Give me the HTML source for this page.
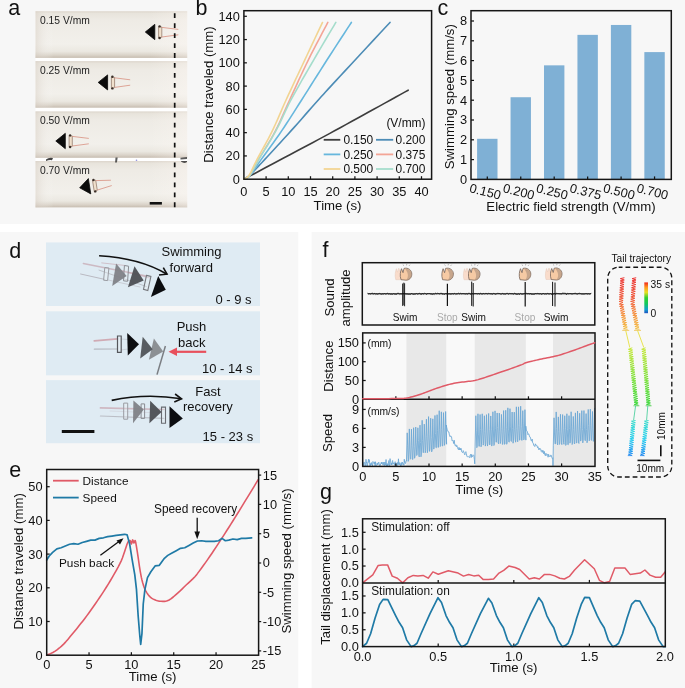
<!DOCTYPE html>
<html><head><meta charset="utf-8"><style>
html,body{margin:0;padding:0;background:#fff;}
svg{will-change:transform;}
svg{display:block;}
text{font-family:"Liberation Sans",sans-serif;}
</style></head><body>
<svg width="685" height="688" viewBox="0 0 685 688">
<rect x="0.00" y="0.00" width="685.00" height="688.00" fill="#ffffff" />
<rect x="0.00" y="0.00" width="685.00" height="224.00" fill="#f7f7f7" />
<rect x="0.00" y="232.00" width="298.30" height="456.00" fill="#f7f7f7" />
<rect x="311.60" y="232.00" width="373.40" height="456.00" fill="#f7f7f7" />
<text x="8.20" y="15.10" font-size="21.5" text-anchor="start" fill="#111" >a</text>
<defs>
<linearGradient id="stripg" x1="0" y1="0" x2="0" y2="1">
<stop offset="0" stop-color="#dcd5cb"/><stop offset="0.05" stop-color="#e8e4dc"/><stop offset="0.2" stop-color="#eeebe5"/>
<stop offset="0.7" stop-color="#f2f0eb"/><stop offset="0.86" stop-color="#ebe8e1"/><stop offset="0.94" stop-color="#dad3c9"/><stop offset="1" stop-color="#c6bcaf"/>
</linearGradient>
<linearGradient id="striph" x1="0" y1="0" x2="1" y2="0">
<stop offset="0" stop-color="#d9d0c6" stop-opacity="0.5"/><stop offset="0.12" stop-color="#ffffff" stop-opacity="0"/>
<stop offset="0.75" stop-color="#fff8f4" stop-opacity="0"/><stop offset="1" stop-color="#fff8f4" stop-opacity="0.35"/>
</linearGradient>
<linearGradient id="cbar" x1="0" y1="1" x2="0" y2="0">
<stop offset="0" stop-color="#2050c0"/><stop offset="0.12" stop-color="#10a0d0"/><stop offset="0.3" stop-color="#10c860"/><stop offset="0.5" stop-color="#30d030"/>
<stop offset="0.68" stop-color="#e8e020"/><stop offset="0.84" stop-color="#ff9820"/><stop offset="1" stop-color="#f02818"/>
</linearGradient>
</defs>
<rect x="35.50" y="11.20" width="151.70" height="196.20" fill="#ffffff" />
<rect x="35.50" y="11.20" width="151.70" height="46.70" fill="url(#stripg)" />
<rect x="35.50" y="11.20" width="151.70" height="46.70" fill="url(#striph)" />
<text x="40.00" y="24.00" font-size="10.3" text-anchor="start" fill="#222" >0.15 V/mm</text>
<rect x="35.50" y="61.10" width="151.70" height="46.60" fill="url(#stripg)" />
<rect x="35.50" y="61.10" width="151.70" height="46.60" fill="url(#striph)" />
<text x="40.00" y="73.90" font-size="10.3" text-anchor="start" fill="#222" >0.25 V/mm</text>
<rect x="35.50" y="111.40" width="151.70" height="46.40" fill="url(#stripg)" />
<rect x="35.50" y="111.40" width="151.70" height="46.40" fill="url(#striph)" />
<text x="40.00" y="124.20" font-size="10.3" text-anchor="start" fill="#222" >0.50 V/mm</text>
<rect x="35.50" y="161.00" width="151.70" height="46.40" fill="url(#stripg)" />
<rect x="35.50" y="161.00" width="151.70" height="46.40" fill="url(#striph)" />
<text x="40.00" y="173.80" font-size="10.3" text-anchor="start" fill="#222" >0.70 V/mm</text>
<polygon points="145.30,32.00 154.80,24.35 154.80,39.65" fill="#0b0b0b" stroke="#0b0b0b" stroke-width="0.8" stroke-linejoin="round"/>
<polygon points="158.60,26.40 161.80,27.00 161.80,37.20 158.60,38.20" fill="#f0e0cc" stroke="#8a7060" stroke-width="0.7"/>
<polyline points="161.80,27.40 178.30,29.40" stroke="#d89080" stroke-width="0.8" fill="none"/>
<polyline points="161.80,37.00 178.30,34.80" stroke="#d89080" stroke-width="0.8" fill="none"/>
<circle cx="159.60" cy="26.40" r="1.2" fill="#3a2e28"/>
<circle cx="159.60" cy="38.00" r="1.2" fill="#3a2e28"/>
<polygon points="98.20,82.40 107.60,74.90 107.60,89.90" fill="#0b0b0b" stroke="#0b0b0b" stroke-width="0.8" stroke-linejoin="round"/>
<polygon points="111.40,76.80 114.60,77.40 114.60,87.60 111.40,88.60" fill="#f0e0cc" stroke="#8a7060" stroke-width="0.7"/>
<polyline points="114.60,77.80 130.20,79.80" stroke="#d89080" stroke-width="0.8" fill="none"/>
<polyline points="114.60,87.40 130.20,85.20" stroke="#d89080" stroke-width="0.8" fill="none"/>
<circle cx="112.40" cy="76.80" r="1.2" fill="#3a2e28"/>
<circle cx="112.40" cy="88.40" r="1.2" fill="#3a2e28"/>
<polygon points="55.80,141.00 65.30,133.35 65.30,148.65" fill="#0b0b0b" stroke="#0b0b0b" stroke-width="0.8" stroke-linejoin="round"/>
<polygon points="69.10,135.40 72.30,136.00 72.30,146.20 69.10,147.20" fill="#f0e0cc" stroke="#8a7060" stroke-width="0.7"/>
<polyline points="72.30,136.40 88.80,138.40" stroke="#d89080" stroke-width="0.8" fill="none"/>
<polyline points="72.30,146.00 88.80,143.80" stroke="#d89080" stroke-width="0.8" fill="none"/>
<circle cx="70.10" cy="135.40" r="1.2" fill="#3a2e28"/>
<circle cx="70.10" cy="147.00" r="1.2" fill="#3a2e28"/>
<polygon points="79.70,187.80 88.36,178.58 90.79,193.89" fill="#0b0b0b" stroke="#0b0b0b" stroke-width="0.8" stroke-linejoin="round"/>
<polygon points="92.45,180.11 95.71,180.20 97.30,190.28 94.30,191.76" fill="#f0e0cc" stroke="#8a7060" stroke-width="0.7"/>
<polyline points="95.77,180.60 110.90,180.23" stroke="#d89080" stroke-width="0.8" fill="none"/>
<polyline points="97.27,190.08 111.74,185.56" stroke="#d89080" stroke-width="0.8" fill="none"/>
<circle cx="93.44" cy="179.95" r="1.2" fill="#3a2e28"/>
<circle cx="95.26" cy="191.41" r="1.2" fill="#3a2e28"/>
<path d="M46,159.5 q3,-2.5 7,-1.5 l-1,2.2 q-3,-0.5 -6,0.8 z" fill="#222" fill-opacity="0.85"/>
<path d="M115.5,157.5 l2.2,0 l-0.8,5 l-1.8,0 z" fill="#333" fill-opacity="0.8"/>
<circle cx="136.5" cy="160.2" r="0.8" fill="#6060d0" fill-opacity="0.7"/>
<path d="M180.5,157.8 l6.5,-0.8 l0,2 l-6.5,0.5 z" fill="#333" fill-opacity="0.8"/>
<path d="M181,161.5 q3,2.5 6,0.5 l0,-1 l-6,0 z" fill="#333" fill-opacity="0.85"/>
<line x1="174.70" y1="13.30" x2="174.70" y2="207.60" stroke="#111" stroke-width="1.7" stroke-dasharray="4.8,5.15"/>
<line x1="149.70" y1="203.30" x2="161.90" y2="203.30" stroke="#111" stroke-width="2.6" />
<text x="195.60" y="14.70" font-size="21.5" text-anchor="start" fill="#111" >b</text>
<text x="239.80" y="183.60" font-size="12.8" text-anchor="end" fill="#111" >0</text>
<line x1="243.90" y1="155.93" x2="246.90" y2="155.93" stroke="#161616" stroke-width="1.25" />
<text x="239.80" y="160.33" font-size="12.8" text-anchor="end" fill="#111" >20</text>
<line x1="243.90" y1="132.66" x2="246.90" y2="132.66" stroke="#161616" stroke-width="1.25" />
<text x="239.80" y="137.06" font-size="12.8" text-anchor="end" fill="#111" >40</text>
<line x1="243.90" y1="109.38" x2="246.90" y2="109.38" stroke="#161616" stroke-width="1.25" />
<text x="239.80" y="113.78" font-size="12.8" text-anchor="end" fill="#111" >60</text>
<line x1="243.90" y1="86.11" x2="246.90" y2="86.11" stroke="#161616" stroke-width="1.25" />
<text x="239.80" y="90.51" font-size="12.8" text-anchor="end" fill="#111" >80</text>
<line x1="243.90" y1="62.84" x2="246.90" y2="62.84" stroke="#161616" stroke-width="1.25" />
<text x="239.80" y="67.24" font-size="12.8" text-anchor="end" fill="#111" >100</text>
<line x1="243.90" y1="39.57" x2="246.90" y2="39.57" stroke="#161616" stroke-width="1.25" />
<text x="239.80" y="43.97" font-size="12.8" text-anchor="end" fill="#111" >120</text>
<line x1="243.90" y1="16.30" x2="246.90" y2="16.30" stroke="#161616" stroke-width="1.25" />
<text x="239.80" y="20.70" font-size="12.8" text-anchor="end" fill="#111" >140</text>
<text x="243.90" y="195.80" font-size="12.8" text-anchor="middle" fill="#111" >0</text>
<line x1="266.10" y1="179.20" x2="266.10" y2="176.20" stroke="#161616" stroke-width="1.25" />
<text x="266.10" y="195.80" font-size="12.8" text-anchor="middle" fill="#111" >5</text>
<line x1="288.30" y1="179.20" x2="288.30" y2="176.20" stroke="#161616" stroke-width="1.25" />
<text x="288.30" y="195.80" font-size="12.8" text-anchor="middle" fill="#111" >10</text>
<line x1="310.50" y1="179.20" x2="310.50" y2="176.20" stroke="#161616" stroke-width="1.25" />
<text x="310.50" y="195.80" font-size="12.8" text-anchor="middle" fill="#111" >15</text>
<line x1="332.70" y1="179.20" x2="332.70" y2="176.20" stroke="#161616" stroke-width="1.25" />
<text x="332.70" y="195.80" font-size="12.8" text-anchor="middle" fill="#111" >20</text>
<line x1="354.90" y1="179.20" x2="354.90" y2="176.20" stroke="#161616" stroke-width="1.25" />
<text x="354.90" y="195.80" font-size="12.8" text-anchor="middle" fill="#111" >25</text>
<line x1="377.10" y1="179.20" x2="377.10" y2="176.20" stroke="#161616" stroke-width="1.25" />
<text x="377.10" y="195.80" font-size="12.8" text-anchor="middle" fill="#111" >30</text>
<line x1="399.30" y1="179.20" x2="399.30" y2="176.20" stroke="#161616" stroke-width="1.25" />
<text x="399.30" y="195.80" font-size="12.8" text-anchor="middle" fill="#111" >35</text>
<line x1="421.50" y1="179.20" x2="421.50" y2="176.20" stroke="#161616" stroke-width="1.25" />
<text x="421.50" y="195.80" font-size="12.8" text-anchor="middle" fill="#111" >40</text>
<text transform="translate(212.80,94.50) rotate(-90)" font-size="13.2" text-anchor="middle" fill="#111">Distance traveled (mm)</text>
<text x="337.50" y="210.10" font-size="13.2" text-anchor="middle" fill="#111" >Time (s)</text>
<polyline points="243.90,179.20 246.58,177.77 250.07,175.90 254.23,173.68 258.88,171.19 263.89,168.52 269.08,165.75 274.31,162.96 279.42,160.23 284.55,157.51 289.90,154.67 295.42,151.75 301.06,148.76 306.78,145.73 312.51,142.68 318.21,139.63 323.82,136.61 329.40,133.59 335.02,130.53 340.67,127.45 346.30,124.36 351.90,121.28 357.43,118.23 362.88,115.23 368.22,112.29 373.70,109.27 379.46,106.09 385.29,102.87 390.98,99.72 396.32,96.76 401.10,94.11 405.13,91.88 408.18,90.18" fill="none" stroke="#3d3d3d" stroke-width="1.6" stroke-linejoin="round" stroke-linecap="round" />
<polyline points="243.90,179.20 244.36,178.89 244.92,178.55 245.59,178.15 246.35,177.67 247.23,177.08 248.22,176.34 249.33,175.42 250.56,174.31 251.88,173.04 253.26,171.66 254.74,170.15 256.34,168.47 258.10,166.61 260.04,164.54 262.20,162.22 264.59,159.65 267.29,156.75 270.29,153.51 273.53,150.00 276.94,146.30 280.46,142.47 284.01,138.58 287.54,134.71 290.96,130.91 294.37,127.10 297.86,123.16 301.39,119.16 304.92,115.14 308.41,111.15 311.83,107.26 315.15,103.51 318.31,99.96 321.13,96.83 323.53,94.17 325.71,91.76 327.88,89.38 330.23,86.84 332.94,83.90 336.21,80.35 340.25,75.99 345.47,70.35 351.89,63.43 359.05,55.73 366.48,47.73 373.75,39.91 380.39,32.77 385.95,26.79 389.98,22.46" fill="none" stroke="#4c8cb6" stroke-width="1.6" stroke-linejoin="round" stroke-linecap="round" />
<polyline points="243.90,179.20 244.35,179.00 244.91,178.81 245.57,178.61 246.32,178.33 247.16,177.92 248.08,177.35 249.07,176.55 250.12,175.48 251.19,174.17 252.30,172.67 253.46,171.00 254.70,169.13 256.06,167.06 257.56,164.80 259.22,162.33 261.08,159.65 263.20,156.69 265.56,153.43 268.11,149.92 270.80,146.23 273.55,142.42 276.32,138.55 279.03,134.70 281.64,130.91 284.13,127.21 286.55,123.54 288.94,119.86 291.33,116.13 293.76,112.32 296.26,108.38 298.87,104.27 301.62,99.96 304.53,95.38 307.59,90.56 310.76,85.55 314.00,80.42 317.27,75.24 320.54,70.07 323.77,64.99 326.93,60.05 330.19,54.98 333.67,49.61 337.22,44.13 340.72,38.76 344.02,33.70 346.98,29.16 349.47,25.35 351.35,22.46" fill="none" stroke="#67b7dd" stroke-width="1.6" stroke-linejoin="round" stroke-linecap="round" />
<polyline points="243.90,179.20 244.32,178.98 244.86,178.79 245.51,178.56 246.23,178.26 247.03,177.84 247.88,177.24 248.76,176.43 249.67,175.36 250.58,174.05 251.49,172.57 252.42,170.91 253.42,169.06 254.50,167.02 255.70,164.77 257.04,162.32 258.55,159.65 260.30,156.70 262.27,153.43 264.41,149.93 266.66,146.23 268.94,142.42 271.21,138.56 273.39,134.70 275.42,130.91 277.30,127.21 279.06,123.54 280.75,119.86 282.42,116.13 284.10,112.32 285.83,108.38 287.66,104.27 289.63,99.96 291.74,95.38 293.96,90.56 296.26,85.55 298.62,80.42 301.03,75.24 303.45,70.07 305.88,64.99 308.28,60.05 310.81,54.98 313.56,49.61 316.40,44.13 319.21,38.76 321.88,33.70 324.28,29.16 326.30,25.35 327.82,22.46" fill="none" stroke="#f3a596" stroke-width="1.6" stroke-linejoin="round" stroke-linecap="round" />
<polyline points="243.90,179.20 244.32,178.98 244.86,178.79 245.50,178.56 246.22,178.26 247.02,177.84 247.87,177.24 248.76,176.43 249.67,175.36 250.59,174.05 251.51,172.57 252.46,170.91 253.47,169.06 254.56,167.02 255.78,164.77 257.15,162.32 258.69,159.65 260.46,156.70 262.46,153.43 264.62,149.93 266.90,146.23 269.22,142.42 271.53,138.56 273.76,134.70 275.87,130.91 277.80,127.21 279.61,123.54 281.35,119.86 283.07,116.13 284.84,112.32 286.71,108.38 288.73,104.27 290.96,99.96 293.44,95.38 296.10,90.56 298.92,85.55 301.84,80.42 304.82,75.24 307.80,70.07 310.75,64.99 313.61,60.05 316.56,54.98 319.71,49.61 322.94,44.13 326.12,38.76 329.13,33.70 331.83,29.16 334.10,25.35 335.81,22.46" fill="none" stroke="#a5ddcc" stroke-width="1.6" stroke-linejoin="round" stroke-linecap="round" />
<polyline points="243.90,179.20 244.29,178.95 244.80,178.71 245.40,178.43 246.08,178.07 246.82,177.58 247.61,176.94 248.41,176.10 249.23,175.01 250.02,173.72 250.80,172.27 251.60,170.66 252.44,168.87 253.36,166.88 254.39,164.69 255.56,162.29 256.91,159.65 258.48,156.71 260.26,153.46 262.19,149.95 264.23,146.26 266.32,142.44 268.40,138.56 270.42,134.70 272.32,130.91 274.08,127.21 275.76,123.54 277.38,119.86 279.00,116.13 280.63,112.32 282.33,108.38 284.14,104.27 286.08,99.96 288.18,95.38 290.42,90.56 292.75,85.55 295.15,80.42 297.59,75.24 300.01,70.07 302.41,64.99 304.73,60.05 307.11,54.98 309.65,49.61 312.23,44.13 314.77,38.76 317.17,33.70 319.32,29.16 321.12,25.35 322.49,22.46" fill="none" stroke="#f2d492" stroke-width="1.6" stroke-linejoin="round" stroke-linecap="round" />
<text x="425.50" y="126.80" font-size="11.95" text-anchor="end" fill="#111" >(V/mm)</text>
<line x1="323.70" y1="139.80" x2="340.30" y2="139.80" stroke="#3d3d3d" stroke-width="1.8" />
<text x="343.40" y="144.10" font-size="11.95" text-anchor="start" fill="#111" >0.150</text>
<line x1="376.00" y1="139.80" x2="393.20" y2="139.80" stroke="#4c8cb6" stroke-width="1.8" />
<text x="395.50" y="144.10" font-size="11.95" text-anchor="start" fill="#111" >0.200</text>
<line x1="323.70" y1="154.40" x2="340.30" y2="154.40" stroke="#67b7dd" stroke-width="1.8" />
<text x="343.40" y="158.70" font-size="11.95" text-anchor="start" fill="#111" >0.250</text>
<line x1="376.00" y1="154.40" x2="393.20" y2="154.40" stroke="#f3a596" stroke-width="1.8" />
<text x="395.50" y="158.70" font-size="11.95" text-anchor="start" fill="#111" >0.375</text>
<line x1="323.70" y1="169.00" x2="340.30" y2="169.00" stroke="#f2d492" stroke-width="1.8" />
<text x="343.40" y="173.30" font-size="11.95" text-anchor="start" fill="#111" >0.500</text>
<line x1="376.00" y1="169.00" x2="393.20" y2="169.00" stroke="#a5ddcc" stroke-width="1.8" />
<text x="395.50" y="173.30" font-size="11.95" text-anchor="start" fill="#111" >0.700</text>
<rect x="243.90" y="10.70" width="187.70" height="168.50" fill="none" stroke="#161616" stroke-width="1.5"/>
<text x="437.60" y="15.40" font-size="21.5" text-anchor="start" fill="#111" >c</text>
<rect x="477.10" y="138.81" width="20.40" height="40.59" fill="#7fb0d5" />
<line x1="487.30" y1="179.40" x2="487.30" y2="176.40" stroke="#161616" stroke-width="1.25" />
<text transform="translate(468.70,192.00) rotate(14)" font-size="12.8" fill="#111">0.150</text>
<rect x="510.55" y="97.23" width="20.40" height="82.17" fill="#7fb0d5" />
<line x1="520.75" y1="179.40" x2="520.75" y2="176.40" stroke="#161616" stroke-width="1.25" />
<text transform="translate(502.15,192.00) rotate(14)" font-size="12.8" fill="#111">0.200</text>
<rect x="544.00" y="65.35" width="20.40" height="114.05" fill="#7fb0d5" />
<line x1="554.20" y1="179.40" x2="554.20" y2="176.40" stroke="#161616" stroke-width="1.25" />
<text transform="translate(535.60,192.00) rotate(14)" font-size="12.8" fill="#111">0.250</text>
<rect x="577.45" y="34.86" width="20.40" height="144.54" fill="#7fb0d5" />
<line x1="587.65" y1="179.40" x2="587.65" y2="176.40" stroke="#161616" stroke-width="1.25" />
<text transform="translate(569.05,192.00) rotate(14)" font-size="12.8" fill="#111">0.375</text>
<rect x="610.90" y="24.96" width="20.40" height="154.44" fill="#7fb0d5" />
<line x1="621.10" y1="179.40" x2="621.10" y2="176.40" stroke="#161616" stroke-width="1.25" />
<text transform="translate(602.50,192.00) rotate(14)" font-size="12.8" fill="#111">0.500</text>
<rect x="644.35" y="52.09" width="20.40" height="127.31" fill="#7fb0d5" />
<line x1="654.55" y1="179.40" x2="654.55" y2="176.40" stroke="#161616" stroke-width="1.25" />
<text transform="translate(635.95,192.00) rotate(14)" font-size="12.8" fill="#111">0.700</text>
<text x="467.20" y="183.80" font-size="12.8" text-anchor="end" fill="#111" >0</text>
<line x1="471.00" y1="159.60" x2="474.00" y2="159.60" stroke="#161616" stroke-width="1.25" />
<text x="467.20" y="164.00" font-size="12.8" text-anchor="end" fill="#111" >1</text>
<line x1="471.00" y1="139.80" x2="474.00" y2="139.80" stroke="#161616" stroke-width="1.25" />
<text x="467.20" y="144.20" font-size="12.8" text-anchor="end" fill="#111" >2</text>
<line x1="471.00" y1="120.00" x2="474.00" y2="120.00" stroke="#161616" stroke-width="1.25" />
<text x="467.20" y="124.40" font-size="12.8" text-anchor="end" fill="#111" >3</text>
<line x1="471.00" y1="100.20" x2="474.00" y2="100.20" stroke="#161616" stroke-width="1.25" />
<text x="467.20" y="104.60" font-size="12.8" text-anchor="end" fill="#111" >4</text>
<line x1="471.00" y1="80.40" x2="474.00" y2="80.40" stroke="#161616" stroke-width="1.25" />
<text x="467.20" y="84.80" font-size="12.8" text-anchor="end" fill="#111" >5</text>
<line x1="471.00" y1="60.60" x2="474.00" y2="60.60" stroke="#161616" stroke-width="1.25" />
<text x="467.20" y="65.00" font-size="12.8" text-anchor="end" fill="#111" >6</text>
<line x1="471.00" y1="40.80" x2="474.00" y2="40.80" stroke="#161616" stroke-width="1.25" />
<text x="467.20" y="45.20" font-size="12.8" text-anchor="end" fill="#111" >7</text>
<line x1="471.00" y1="21.00" x2="474.00" y2="21.00" stroke="#161616" stroke-width="1.25" />
<text x="467.20" y="25.40" font-size="12.8" text-anchor="end" fill="#111" >8</text>
<text transform="translate(453.80,96.70) rotate(-90)" font-size="13.2" text-anchor="middle" fill="#111">Swimming speed (mm/s)</text>
<text x="571.00" y="210.90" font-size="13.2" text-anchor="middle" fill="#111" >Electric field strength (V/mm)</text>
<rect x="471.00" y="10.70" width="200.30" height="168.70" fill="none" stroke="#161616" stroke-width="1.5"/>
<text x="9.20" y="257.50" font-size="21.5" text-anchor="start" fill="#111" >d</text>
<rect x="46.00" y="242.40" width="214.00" height="63.60" fill="#dfebf3" />
<rect x="46.00" y="311.30" width="214.00" height="64.00" fill="#dfebf3" />
<rect x="46.00" y="380.10" width="214.00" height="63.10" fill="#dfebf3" />
<line x1="83.30" y1="263.50" x2="146.30" y2="276.00" stroke="#c4a4ae" stroke-width="1.4" stroke-opacity="0.7" stroke-linecap="round"/>
<line x1="80.60" y1="274.00" x2="104.30" y2="279.30" stroke="#a9a4ac" stroke-width="1.0" stroke-opacity="0.7" stroke-linecap="round"/>
<line x1="101.70" y1="262.90" x2="125.30" y2="265.50" stroke="#c4a4ae" stroke-width="1.0" stroke-opacity="0.6" stroke-linecap="round"/>
<line x1="99.00" y1="270.10" x2="146.30" y2="286.50" stroke="#9c98a0" stroke-width="0.9" stroke-opacity="0.55" stroke-linecap="round"/>
<line x1="122.70" y1="270.80" x2="150.00" y2="278.00" stroke="#c4a4ae" stroke-width="1.2" stroke-opacity="0.6" stroke-linecap="round"/>
<line x1="108.00" y1="280.00" x2="140.00" y2="287.00" stroke="#b0a8b0" stroke-width="0.9" stroke-opacity="0.5" stroke-linecap="round"/>
<polygon points="104.80,267.50 108.90,268.00 107.60,280.60 103.60,280.20" fill="#eef2f5" fill-opacity="0.3" stroke="#9a9ca2" stroke-width="1.0"/>
<polygon points="124.40,265.50 128.60,266.20 127.60,281.30 123.50,280.80" fill="#eef2f5" fill-opacity="0.3" stroke="#8a8c92" stroke-width="1.0"/>
<polygon points="146.50,275.40 150.90,276.50 147.80,290.50 143.50,289.40" fill="#eef2f5" fill-opacity="0.3" stroke="#77797e" stroke-width="1.1"/>
<polygon points="116.10,263.50 126.60,276.00 112.20,285.90" fill="#7f8287" fill-opacity="0.95"/>
<polygon points="134.50,266.20 143.70,280.60 127.90,287.20" fill="#4f5257" fill-opacity="0.97"/>
<polygon points="158.20,276.00 165.80,289.80 150.90,297.00" fill="#0c0d10" fill-opacity="1"/>
<path d="M99.1,255.7 Q140,258 167,274.2" fill="none" stroke="#111" stroke-width="1.6"/>
<polyline points="163.3,267.6 167,274.2 159,275" fill="none" stroke="#111" stroke-width="1.6"/>
<text x="191.50" y="256.40" font-size="13.0" text-anchor="middle" fill="#111" >Swimming</text>
<text x="191.20" y="272.10" font-size="13.0" text-anchor="middle" fill="#111" >forward</text>
<text x="251.50" y="303.60" font-size="13.0" text-anchor="end" fill="#111" >0 - 9 s</text>
<line x1="94.30" y1="340.80" x2="117.50" y2="338.80" stroke="#c98f99" stroke-width="1.8" stroke-opacity="0.7" stroke-linecap="round"/>
<line x1="94.30" y1="349.20" x2="117.50" y2="349.00" stroke="#a4a4ac" stroke-width="1.2" stroke-opacity="0.7" stroke-linecap="round"/>
<line x1="121.00" y1="339.00" x2="128.00" y2="339.50" stroke="#b0b0b8" stroke-width="0.8" stroke-opacity="0.5" stroke-linecap="round"/>
<line x1="121.00" y1="350.00" x2="128.00" y2="349.00" stroke="#b0b0b8" stroke-width="0.8" stroke-opacity="0.5" stroke-linecap="round"/>
<polygon points="117.50,336.00 121.20,336.00 121.20,352.30 117.50,352.30" fill="#eef2f5" fill-opacity="0.3" stroke="#55575c" stroke-width="1.2"/>
<polygon points="153.90,338.40 163.20,351.60 148.90,359.70" fill="#898c91" fill-opacity="0.97"/>
<polygon points="142.70,336.70 152.70,349.20 140.20,358.50" fill="#54575c" fill-opacity="0.97"/>
<polygon points="127.20,333.00 139.00,344.20 127.80,355.40" fill="#0c0d10" fill-opacity="1"/>
<line x1="165.40" y1="346.00" x2="157.00" y2="374.60" stroke="#7a7d82" stroke-width="1.5" />
<line x1="206.20" y1="351.80" x2="176.00" y2="351.80" stroke="#e8505c" stroke-width="2.2" />
<polygon points="168.50,351.80 177.00,347.60 177.00,356.00" fill="#e8505c" />
<text x="191.50" y="331.30" font-size="13.0" text-anchor="middle" fill="#111" >Push</text>
<text x="191.80" y="346.60" font-size="13.0" text-anchor="middle" fill="#111" >back</text>
<text x="252.50" y="373.20" font-size="13.0" text-anchor="end" fill="#111" >10 - 14 s</text>
<line x1="100.40" y1="407.90" x2="163.90" y2="409.50" stroke="#c7a3ad" stroke-width="1.6" stroke-opacity="0.7" stroke-linecap="round"/>
<line x1="100.40" y1="416.00" x2="163.90" y2="418.40" stroke="#a8a6ae" stroke-width="1.1" stroke-opacity="0.65" stroke-linecap="round"/>
<line x1="110.00" y1="411.00" x2="160.00" y2="413.00" stroke="#c0b8c0" stroke-width="0.8" stroke-opacity="0.4" stroke-linecap="round"/>
<polygon points="123.70,403.10 127.70,403.10 127.70,419.20 123.70,419.20" fill="#eef2f5" fill-opacity="0.3" stroke="#9a9ca2" stroke-width="1.0"/>
<polygon points="141.10,403.90 144.60,403.90 144.60,418.40 141.10,418.40" fill="#eef2f5" fill-opacity="0.3" stroke="#8a8c92" stroke-width="1.0"/>
<polygon points="161.50,407.10 165.50,407.10 165.50,423.20 161.50,423.20" fill="#eef2f5" fill-opacity="0.3" stroke="#6a6c72" stroke-width="1.1"/>
<polygon points="133.40,400.40 143.80,409.50 133.00,423.20" fill="#7f8287" fill-opacity="0.95"/>
<polygon points="150.20,400.70 161.50,411.90 149.40,423.20" fill="#4f5257" fill-opacity="0.97"/>
<polygon points="169.50,406.30 182.80,418.40 169.50,428.00" fill="#0c0d10" fill-opacity="1"/>
<path d="M111.7,400.4 Q146,393 181.5,398.8" fill="none" stroke="#111" stroke-width="1.6"/>
<polyline points="175.1,394 181.5,398.8 174.3,402" fill="none" stroke="#111" stroke-width="1.6"/>
<text x="207.90" y="396.20" font-size="13.0" text-anchor="middle" fill="#111" >Fast</text>
<text x="207.90" y="411.00" font-size="13.0" text-anchor="middle" fill="#111" >recovery</text>
<text x="253.20" y="441.00" font-size="13.0" text-anchor="end" fill="#111" >15 - 23 s</text>
<line x1="61.80" y1="431.50" x2="94.40" y2="431.50" stroke="#111" stroke-width="3" />
<text x="9.30" y="477.30" font-size="21.5" text-anchor="start" fill="#111" >e</text>
<text x="42.60" y="659.60" font-size="12.8" text-anchor="end" fill="#111" >0</text>
<line x1="46.70" y1="621.50" x2="49.70" y2="621.50" stroke="#161616" stroke-width="1.25" />
<text x="42.60" y="625.90" font-size="12.8" text-anchor="end" fill="#111" >10</text>
<line x1="46.70" y1="587.80" x2="49.70" y2="587.80" stroke="#161616" stroke-width="1.25" />
<text x="42.60" y="592.20" font-size="12.8" text-anchor="end" fill="#111" >20</text>
<line x1="46.70" y1="554.10" x2="49.70" y2="554.10" stroke="#161616" stroke-width="1.25" />
<text x="42.60" y="558.50" font-size="12.8" text-anchor="end" fill="#111" >30</text>
<line x1="46.70" y1="520.40" x2="49.70" y2="520.40" stroke="#161616" stroke-width="1.25" />
<text x="42.60" y="524.80" font-size="12.8" text-anchor="end" fill="#111" >40</text>
<line x1="46.70" y1="486.70" x2="49.70" y2="486.70" stroke="#161616" stroke-width="1.25" />
<text x="42.60" y="491.10" font-size="12.8" text-anchor="end" fill="#111" >50</text>
<line x1="258.60" y1="650.90" x2="261.20" y2="650.90" stroke="#161616" stroke-width="1.2" />
<text x="262.80" y="655.30" font-size="12.8" text-anchor="start" fill="#111" >-15</text>
<line x1="258.60" y1="621.60" x2="261.20" y2="621.60" stroke="#161616" stroke-width="1.2" />
<text x="262.80" y="626.00" font-size="12.8" text-anchor="start" fill="#111" >-10</text>
<line x1="258.60" y1="592.30" x2="261.20" y2="592.30" stroke="#161616" stroke-width="1.2" />
<text x="262.80" y="596.70" font-size="12.8" text-anchor="start" fill="#111" >-5</text>
<line x1="258.60" y1="563.00" x2="261.20" y2="563.00" stroke="#161616" stroke-width="1.2" />
<text x="262.80" y="567.40" font-size="12.8" text-anchor="start" fill="#111" >0</text>
<line x1="258.60" y1="533.70" x2="261.20" y2="533.70" stroke="#161616" stroke-width="1.2" />
<text x="262.80" y="538.10" font-size="12.8" text-anchor="start" fill="#111" >5</text>
<line x1="258.60" y1="504.40" x2="261.20" y2="504.40" stroke="#161616" stroke-width="1.2" />
<text x="262.80" y="508.80" font-size="12.8" text-anchor="start" fill="#111" >10</text>
<line x1="258.60" y1="475.10" x2="261.20" y2="475.10" stroke="#161616" stroke-width="1.2" />
<text x="262.80" y="479.50" font-size="12.8" text-anchor="start" fill="#111" >15</text>
<text x="46.70" y="668.60" font-size="12.8" text-anchor="middle" fill="#111" >0</text>
<line x1="89.04" y1="655.20" x2="89.04" y2="652.20" stroke="#161616" stroke-width="1.25" />
<text x="89.04" y="668.60" font-size="12.8" text-anchor="middle" fill="#111" >5</text>
<line x1="131.38" y1="655.20" x2="131.38" y2="652.20" stroke="#161616" stroke-width="1.25" />
<text x="131.38" y="668.60" font-size="12.8" text-anchor="middle" fill="#111" >10</text>
<line x1="173.72" y1="655.20" x2="173.72" y2="652.20" stroke="#161616" stroke-width="1.25" />
<text x="173.72" y="668.60" font-size="12.8" text-anchor="middle" fill="#111" >15</text>
<line x1="216.06" y1="655.20" x2="216.06" y2="652.20" stroke="#161616" stroke-width="1.25" />
<text x="216.06" y="668.60" font-size="12.8" text-anchor="middle" fill="#111" >20</text>
<text x="258.40" y="668.60" font-size="12.8" text-anchor="middle" fill="#111" >25</text>
<text transform="translate(23.00,561.30) rotate(-90)" font-size="13.2" text-anchor="middle" fill="#111">Distance traveled (mm)</text>
<text transform="translate(291.00,561.00) rotate(-90)" font-size="13.2" text-anchor="middle" fill="#111">Swimming speed (mm/s)</text>
<text x="152.60" y="681.40" font-size="13.2" text-anchor="middle" fill="#111" >Time (s)</text>
<polyline points="46.70,655.20 48.22,654.54 50.40,653.62 52.85,652.48 55.17,651.16 57.29,649.66 59.40,647.98 61.52,646.11 63.64,644.08 65.75,641.84 67.87,639.40 69.99,636.86 72.10,634.31 74.22,631.76 76.34,629.17 78.45,626.53 80.57,623.86 82.69,621.15 84.81,618.40 86.92,615.61 89.04,612.74 91.16,609.79 93.27,606.78 95.39,603.71 97.51,600.61 99.62,597.48 101.74,594.33 103.86,591.11 105.98,587.80 108.13,584.32 110.32,580.72 112.45,577.12 114.44,573.65 116.32,570.33 118.10,567.10 119.74,563.94 121.22,560.84 122.50,557.71 123.60,554.58 124.57,551.64 125.45,549.05 126.22,546.81 126.85,544.85 127.43,543.22 127.99,541.97 128.57,541.12 129.13,540.64 129.65,540.49 130.11,540.62 130.49,541.30 130.80,542.47 131.08,543.56 131.38,543.99 131.70,543.33 132.02,541.99 132.33,540.63 132.65,539.95 132.97,540.33 133.29,541.36 133.60,542.43 133.92,542.98 134.24,542.57 134.56,541.61 134.87,540.74 135.19,540.62 135.50,541.43 135.80,542.83 136.11,544.64 136.46,546.69 136.85,549.03 137.28,551.74 137.72,554.62 138.15,557.47 138.57,560.30 138.97,563.18 139.39,566.07 139.85,568.93 140.33,571.78 140.83,574.64 141.37,577.42 141.97,580.05 142.62,582.52 143.31,584.87 144.08,587.09 144.93,589.15 145.88,591.07 146.91,592.86 148.01,594.47 149.16,595.89 150.33,597.08 151.54,598.06 152.83,598.88 154.24,599.60 155.80,600.22 157.47,600.73 159.23,601.10 161.02,601.28 162.82,601.37 164.67,601.34 166.59,601.04 168.64,600.27 170.87,598.88 173.24,597.00 175.65,594.91 177.95,592.86 180.13,590.88 182.24,588.85 184.32,586.80 186.42,584.77 188.54,582.82 190.66,580.91 192.77,578.91 194.89,576.68 197.01,574.14 199.12,571.37 201.24,568.48 203.36,565.56 205.48,562.61 207.59,559.60 209.71,556.53 211.83,553.43 213.94,550.28 216.06,547.09 218.18,543.86 220.29,540.62 222.41,537.37 224.53,534.09 226.64,530.79 228.76,527.48 230.88,524.14 233.00,520.78 235.11,517.40 237.23,514.00 239.35,510.57 241.46,507.11 243.58,503.64 245.70,500.18 247.91,496.57 250.20,492.85 252.35,489.34 254.17,486.36 255.62,483.95 256.81,481.96 257.74,480.40 258.40,479.29" fill="none" stroke="#e05a67" stroke-width="1.6" stroke-linejoin="round" stroke-linecap="round" />
<polyline points="46.70,560.07 49.24,555.97 52.63,552.45 56.86,548.94 61.10,547.76 65.33,546.01 69.56,544.25 73.80,543.66 78.03,544.25 82.27,542.49 86.50,541.32 90.73,540.15 94.97,540.15 99.20,538.39 103.44,537.80 107.67,536.63 111.90,536.04 116.14,535.46 120.37,534.87 124.61,534.29 127.15,534.87 129.69,544.25 132.23,560.07 134.77,574.72 136.46,589.37 138.15,615.74 139.85,636.25 140.69,644.45 141.97,633.32 143.24,604.02 144.93,589.37 147.47,577.65 150.86,571.79 155.09,565.93 159.32,565.34 161.86,561.83 164.41,558.31 167.79,555.38 172.03,553.04 176.26,550.69 180.49,548.35 184.73,547.76 188.96,545.42 193.20,543.08 197.43,541.02 201.66,540.73 205.90,541.32 210.13,541.32 214.37,541.32 218.60,540.73 221.99,538.39 225.37,540.73 228.76,540.15 233.00,538.97 237.23,539.56 241.46,538.39 245.70,538.39 251.63,537.80" fill="none" stroke="#1f7aa6" stroke-width="1.7" stroke-linejoin="round" stroke-linecap="round" />
<line x1="53.00" y1="480.70" x2="78.70" y2="480.70" stroke="#e05a67" stroke-width="1.8" />
<text x="82.60" y="485.00" font-size="11.8" text-anchor="start" fill="#111" >Distance</text>
<line x1="53.00" y1="497.60" x2="78.70" y2="497.60" stroke="#1f7aa6" stroke-width="1.8" />
<text x="82.60" y="501.90" font-size="11.8" text-anchor="start" fill="#111" >Speed</text>
<text x="86.50" y="567.00" font-size="11.8" text-anchor="middle" fill="#111" >Push back</text>
<line x1="100.40" y1="555.30" x2="121.00" y2="540.00" stroke="#111" stroke-width="1.3" />
<polygon points="123.50,538.30 116.50,540.60 120.00,544.50" fill="#111" />
<text x="195.60" y="513.00" font-size="11.9" text-anchor="middle" fill="#111" >Speed recovery</text>
<line x1="197.20" y1="517.80" x2="197.20" y2="533.00" stroke="#111" stroke-width="1.3" />
<polygon points="197.20,539.20 194.40,531.50 200.00,531.50" fill="#111" />
<rect x="46.70" y="469.50" width="211.90" height="185.70" fill="none" stroke="#161616" stroke-width="1.5"/>
<text x="322.40" y="257.30" font-size="21.5" text-anchor="start" fill="#111" >f</text>
<polyline points="367.80,293.43 368.60,293.86 369.40,293.62 370.20,293.95 371.00,293.98 371.80,293.19 372.60,293.12 373.40,294.27 374.20,293.46 375.00,293.43 375.80,294.49 376.60,293.76 377.40,294.27 378.20,293.77 379.00,293.99 379.80,293.31 380.60,293.99 381.40,294.32 382.20,293.83 383.00,294.14 383.80,294.04 384.60,293.19 385.40,294.16 386.20,293.93 387.00,293.52 387.80,293.14 388.60,294.31 389.40,293.76 390.20,294.11 391.00,294.33 391.80,294.10 392.60,294.39 393.40,293.65 394.20,294.22 395.00,293.72 395.80,294.41 396.60,294.33 397.40,293.24 398.20,293.29 399.00,293.40 399.80,294.45 400.60,293.71 401.40,293.98 402.20,293.52 403.00,293.81 403.80,293.64 404.60,293.59 405.40,293.92 406.20,293.92 407.00,294.37 407.80,294.05 408.60,294.40 409.40,294.30 410.20,294.49 411.00,294.04 411.80,293.33 412.60,294.30 413.40,294.45 414.20,294.37 415.00,293.90 415.80,294.10 416.60,293.40 417.40,294.26 418.20,293.90 419.00,293.50 419.80,293.19 420.60,294.30 421.40,294.49 422.20,293.22 423.00,294.22 423.80,293.67 424.60,293.31 425.40,293.51 426.20,294.18 427.00,294.32 427.80,293.16 428.60,293.96 429.40,293.16 430.20,294.11 431.00,293.56 431.80,294.33 432.60,294.47 433.40,293.81 434.20,294.50 435.00,293.53 435.80,293.21 436.60,293.94 437.40,293.14 438.20,293.38 439.00,293.67 439.80,293.95 440.60,293.32 441.40,293.16 442.20,294.31 443.00,293.54 443.80,294.44 444.60,294.36 445.40,293.63 446.20,293.74 447.00,293.83 447.80,294.00 448.60,293.93 449.40,293.88 450.20,293.97 451.00,294.42 451.80,293.81 452.60,293.70 453.40,294.11 454.20,293.43 455.00,293.52 455.80,294.47 456.60,293.83 457.40,293.87 458.20,293.12 459.00,293.68 459.80,293.91 460.60,293.13 461.40,293.96 462.20,293.99 463.00,293.18 463.80,293.98 464.60,293.75 465.40,294.05 466.20,293.59 467.00,294.09 467.80,294.13 468.60,293.13 469.40,293.18 470.20,294.05 471.00,294.45 471.80,293.45 472.60,293.74 473.40,293.93 474.20,293.55 475.00,293.61 475.80,293.54 476.60,293.62 477.40,293.93 478.20,293.52 479.00,293.63 479.80,294.18 480.60,293.14 481.40,293.90 482.20,294.13 483.00,293.53 483.80,293.41 484.60,294.23 485.40,293.43 486.20,293.36 487.00,293.71 487.80,294.08 488.60,293.24 489.40,293.55 490.20,293.57 491.00,294.27 491.80,293.71 492.60,294.30 493.40,293.34 494.20,293.57 495.00,294.01 495.80,294.34 496.60,293.73 497.40,293.42 498.20,293.27 499.00,293.84 499.80,293.37 500.60,294.23 501.40,294.27 502.20,293.36 503.00,293.49 503.80,294.23 504.60,294.00 505.40,294.23 506.20,293.58 507.00,293.28 507.80,293.51 508.60,294.21 509.40,293.48 510.20,293.58 511.00,293.68 511.80,293.69 512.60,293.67 513.40,294.39 514.20,293.32 515.00,293.11 515.80,294.42 516.60,294.33 517.40,294.48 518.20,293.71 519.00,294.43 519.80,294.40 520.60,293.41 521.40,294.14 522.20,294.27 523.00,294.03 523.80,293.83 524.60,293.50 525.40,293.58 526.20,293.42 527.00,293.20 527.80,293.92 528.60,293.50 529.40,294.23 530.20,293.16 531.00,294.37 531.80,294.07 532.60,294.39 533.40,294.36 534.20,294.36 535.00,293.91 535.80,293.12 536.60,294.14 537.40,293.34 538.20,293.52 539.00,294.03 539.80,293.83 540.60,293.68 541.40,294.41 542.20,293.96 543.00,293.58 543.80,293.45 544.60,294.31 545.40,293.77 546.20,294.20 547.00,293.59 547.80,293.38 548.60,293.85 549.40,294.24 550.20,293.34 551.00,294.21 551.80,294.39 552.60,294.23 553.40,294.25 554.20,293.11 555.00,293.98 555.80,294.31 556.60,293.17 557.40,293.48 558.20,293.48 559.00,293.84 559.80,293.69 560.60,293.76 561.40,294.19 562.20,293.10 563.00,293.18 563.80,293.28 564.60,293.27 565.40,293.20 566.20,294.46 567.00,294.30 567.80,293.22 568.60,293.80 569.40,293.54 570.20,293.54 571.00,293.59 571.80,294.01 572.60,293.92 573.40,293.61 574.20,293.37 575.00,293.56 575.80,293.27 576.60,293.88 577.40,294.10 578.20,293.63 579.00,293.21 579.80,293.35 580.60,293.62 581.40,293.95 582.20,294.20 583.00,293.63 583.80,294.22 584.60,293.97 585.40,293.70 586.20,293.62 587.00,293.79 587.80,294.08 588.60,293.69 589.40,294.07 590.20,293.75 591.00,293.44" fill="none" stroke="#222" stroke-width="0.9" stroke-linejoin="round" stroke-linecap="round" />
<line x1="367.80" y1="293.80" x2="591.00" y2="293.80" stroke="#1a1a1a" stroke-width="1.0" />
<line x1="402.60" y1="283.57" x2="402.60" y2="305.89" stroke="#111" stroke-width="0.9" />
<line x1="403.80" y1="282.64" x2="403.80" y2="305.35" stroke="#111" stroke-width="0.9" />
<line x1="404.60" y1="283.35" x2="404.60" y2="306.26" stroke="#111" stroke-width="0.9" />
<line x1="447.40" y1="283.80" x2="447.40" y2="305.90" stroke="#111" stroke-width="1.2" />
<line x1="471.70" y1="281.60" x2="471.70" y2="305.90" stroke="#111" stroke-width="1.0" />
<line x1="473.20" y1="283.00" x2="473.20" y2="306.50" stroke="#111" stroke-width="1.0" />
<line x1="525.20" y1="282.00" x2="525.20" y2="306.50" stroke="#111" stroke-width="1.2" />
<line x1="552.60" y1="281.80" x2="552.60" y2="306.00" stroke="#111" stroke-width="1.0" />
<line x1="555.00" y1="282.50" x2="555.00" y2="306.50" stroke="#111" stroke-width="1.0" />
<path d="M395.80,279.70 C394.50,275.20 395.50,271.20 396.40,268.70 L397.40,272.20 L398.80,268.20 L400.40,272.70 L402.00,270.20 C403.00,274.20 402.50,278.20 401.00,279.70 Z" fill="#f9dccb" stroke="#e9cdbd" stroke-width="0.6"/>
<path d="M401.00,279.70 C399.50,275.20 400.50,271.20 401.50,268.70 L403.00,272.70 L404.00,268.40 C408.00,267.20 412.00,270.20 411.80,274.20 C411.60,278.20 409.00,280.20 406.00,280.20 Z" fill="#f6caa4" stroke="#6e5e56" stroke-width="0.75"/>
<path d="M405.00,268.70 C409.00,268.20 412.00,271.20 411.60,275.20 C411.00,278.20 409.00,279.80 406.50,280.00 C409.00,276.20 408.00,272.20 405.00,268.70 Z" fill="#a08878" fill-opacity="0.55"/>
<path d="M404.00,265.70 l-1.2,-1 M406.50,265.40 l0.3,-1.4 M409.00,265.90 l1,-1.2" stroke="#888" stroke-width="0.6" fill="none"/>
<path d="M442.60,279.70 C441.10,275.20 442.10,271.20 443.10,268.70 L444.60,272.70 L445.60,268.40 C449.60,267.20 453.60,270.20 453.40,274.20 C453.20,278.20 450.60,280.20 447.60,280.20 Z" fill="#f6caa4" stroke="#6e5e56" stroke-width="0.75"/>
<path d="M446.60,268.70 C450.60,268.20 453.60,271.20 453.20,275.20 C452.60,278.20 450.60,279.80 448.10,280.00 C450.60,276.20 449.60,272.20 446.60,268.70 Z" fill="#a08878" fill-opacity="0.55"/>
<path d="M445.60,265.70 l-1.2,-1 M448.10,265.40 l0.3,-1.4 M450.60,265.90 l1,-1.2" stroke="#888" stroke-width="0.6" fill="none"/>
<path d="M464.00,279.70 C462.70,275.20 463.70,271.20 464.60,268.70 L465.60,272.20 L467.00,268.20 L468.60,272.70 L470.20,270.20 C471.20,274.20 470.70,278.20 469.20,279.70 Z" fill="#f9dccb" stroke="#e9cdbd" stroke-width="0.6"/>
<path d="M469.20,279.70 C467.70,275.20 468.70,271.20 469.70,268.70 L471.20,272.70 L472.20,268.40 C476.20,267.20 480.20,270.20 480.00,274.20 C479.80,278.20 477.20,280.20 474.20,280.20 Z" fill="#f6caa4" stroke="#6e5e56" stroke-width="0.75"/>
<path d="M473.20,268.70 C477.20,268.20 480.20,271.20 479.80,275.20 C479.20,278.20 477.20,279.80 474.70,280.00 C477.20,276.20 476.20,272.20 473.20,268.70 Z" fill="#a08878" fill-opacity="0.55"/>
<path d="M472.20,265.70 l-1.2,-1 M474.70,265.40 l0.3,-1.4 M477.20,265.90 l1,-1.2" stroke="#888" stroke-width="0.6" fill="none"/>
<path d="M520.00,279.70 C518.50,275.20 519.50,271.20 520.50,268.70 L522.00,272.70 L523.00,268.40 C527.00,267.20 531.00,270.20 530.80,274.20 C530.60,278.20 528.00,280.20 525.00,280.20 Z" fill="#f6caa4" stroke="#6e5e56" stroke-width="0.75"/>
<path d="M524.00,268.70 C528.00,268.20 531.00,271.20 530.60,275.20 C530.00,278.20 528.00,279.80 525.50,280.00 C528.00,276.20 527.00,272.20 524.00,268.70 Z" fill="#a08878" fill-opacity="0.55"/>
<path d="M523.00,265.70 l-1.2,-1 M525.50,265.40 l0.3,-1.4 M528.00,265.90 l1,-1.2" stroke="#888" stroke-width="0.6" fill="none"/>
<path d="M546.00,279.50 C544.70,275.00 545.70,271.00 546.60,268.50 L547.60,272.00 L549.00,268.00 L550.60,272.50 L552.20,270.00 C553.20,274.00 552.70,278.00 551.20,279.50 Z" fill="#f9dccb" stroke="#e9cdbd" stroke-width="0.6"/>
<path d="M551.20,279.50 C549.70,275.00 550.70,271.00 551.70,268.50 L553.20,272.50 L554.20,268.20 C558.20,267.00 562.20,270.00 562.00,274.00 C561.80,278.00 559.20,280.00 556.20,280.00 Z" fill="#f6caa4" stroke="#6e5e56" stroke-width="0.75"/>
<path d="M555.20,268.50 C559.20,268.00 562.20,271.00 561.80,275.00 C561.20,278.00 559.20,279.60 556.70,279.80 C559.20,276.00 558.20,272.00 555.20,268.50 Z" fill="#a08878" fill-opacity="0.55"/>
<path d="M554.20,265.50 l-1.2,-1 M556.70,265.20 l0.3,-1.4 M559.20,265.70 l1,-1.2" stroke="#888" stroke-width="0.6" fill="none"/>
<text x="405.00" y="320.80" font-size="10.1" text-anchor="middle" fill="#111" >Swim</text>
<text x="447.30" y="320.80" font-size="10.1" text-anchor="middle" fill="#aaaaaa" >Stop</text>
<text x="473.70" y="320.80" font-size="10.1" text-anchor="middle" fill="#111" >Swim</text>
<text x="525.00" y="320.80" font-size="10.1" text-anchor="middle" fill="#aaaaaa" >Stop</text>
<text x="556.20" y="320.80" font-size="10.1" text-anchor="middle" fill="#111" >Swim</text>
<rect x="362.30" y="262.70" width="232.50" height="62.30" fill="none" stroke="#161616" stroke-width="1.5"/>
<text transform="translate(334.40,297.50) rotate(-90)" font-size="13.2" text-anchor="middle" fill="#111">Sound</text>
<text transform="translate(349.60,297.90) rotate(-90)" font-size="13.2" text-anchor="middle" fill="#111">amplitude</text>
<rect x="362.70" y="332.90" width="232.30" height="133.50" fill="#f9f9f9" />
<rect x="406.46" y="332.90" width="39.78" height="133.50" fill="#e8e8e8" />
<rect x="474.75" y="332.90" width="51.05" height="133.50" fill="#e8e8e8" />
<rect x="552.98" y="332.90" width="41.77" height="133.50" fill="#e8e8e8" />
<polyline points="362.70,461.66 363.06,461.85 363.43,465.07 363.79,465.78 364.16,463.05 364.52,462.39 364.89,462.68 365.25,465.88 365.62,466.38 365.98,459.31 366.35,462.77 366.71,461.94 367.08,466.28 367.44,465.79 367.81,462.99 368.17,461.58 368.53,459.19 368.90,462.51 369.26,459.61 369.63,462.61 369.99,466.09 370.36,463.54 370.72,465.17 371.09,465.13 371.45,462.58 371.82,464.54 372.18,464.63 372.55,465.98 372.91,461.47 373.27,462.62 373.64,462.90 374.00,462.99 374.37,463.95 374.73,461.86 375.10,465.91 375.46,461.76 375.83,464.16 376.19,465.46 376.56,465.39 376.92,464.81 377.29,462.90 377.65,464.90 378.02,464.31 378.38,463.44 378.74,462.13 379.11,463.97 379.47,465.53 379.84,464.77 380.20,465.67 380.57,463.97 380.93,464.03 381.30,462.24 381.66,463.96 382.03,462.06 382.39,462.69 382.76,464.03 383.12,465.21 383.49,462.98 383.85,462.08 384.21,465.44 384.58,465.45 384.94,462.05 385.31,465.11 385.67,464.81 386.04,459.54 386.40,465.93 386.77,464.92 387.13,463.46 387.50,466.37 387.86,464.19 388.23,465.34 388.59,461.56 388.95,460.48 389.32,465.01 389.68,465.83 390.05,458.63 390.41,461.63 390.78,462.49 391.14,464.90 391.51,463.09 391.87,465.06 392.24,461.53 392.60,460.52 392.97,463.90 393.33,462.76 393.70,463.53 394.06,463.13 394.42,465.49 394.79,463.08 395.15,461.68 395.52,464.72 395.88,463.37 396.25,463.12 396.61,464.82 396.98,466.05 397.34,462.58 397.71,462.65 398.07,465.05 398.44,458.82 398.80,463.84 399.16,462.51 399.53,464.71 399.89,463.66 400.26,464.61 400.62,465.83 400.99,462.73 401.35,462.46 401.72,465.46 402.08,464.29 402.45,462.27 402.81,463.40 403.18,464.38 403.54,463.73 403.91,465.38 404.27,459.28 404.63,462.33 405.00,461.59 405.36,463.60 405.73,463.19 405.79,462.60 406.46,460.07 406.46,460.63 407.21,432.85 407.63,445.84 408.17,461.40 408.59,459.93 409.34,428.93 409.77,449.07 410.30,459.29 410.73,458.68 411.47,429.19 411.90,445.32 412.44,459.45 412.86,459.44 413.61,427.73 414.04,446.67 414.57,458.28 415.00,456.71 415.74,427.05 416.17,442.89 416.71,455.52 417.13,454.75 417.88,427.78 418.31,440.63 418.84,455.77 419.27,456.93 420.01,425.13 420.44,442.35 420.98,456.82 421.40,454.05 422.15,420.30 422.58,440.78 423.11,452.79 423.54,452.44 424.28,424.12 424.71,436.96 425.24,452.80 425.67,450.54 426.42,419.21 426.85,436.45 427.38,452.76 427.81,449.98 428.55,416.62 428.98,434.72 429.51,451.38 429.94,449.15 430.69,418.23 431.12,437.42 431.65,451.86 432.08,450.71 432.82,418.81 433.25,436.05 433.78,449.12 434.21,447.33 434.96,415.45 435.39,433.62 435.92,447.52 436.35,447.81 437.09,414.69 437.52,430.81 438.05,447.44 438.48,447.26 439.23,410.71 439.66,429.89 440.19,446.55 440.62,445.52 441.36,411.83 441.79,429.40 442.32,446.08 442.75,445.90 443.50,412.64 443.92,427.34 444.46,445.36 444.89,443.14 445.63,411.50 446.06,429.14 446.59,444.24 446.24,425.05 446.77,427.69 447.30,429.84 447.83,430.93 448.36,432.06 448.89,431.96 449.42,435.14 449.95,436.51 450.48,435.78 451.01,437.06 451.54,436.80 452.07,440.69 452.60,440.09 453.13,441.04 453.66,443.55 454.19,440.22 454.72,444.33 455.25,445.65 455.79,444.69 456.32,446.76 456.85,445.40 457.38,447.25 457.91,448.85 458.44,449.75 458.97,447.31 459.50,449.85 460.03,448.09 460.56,450.00 461.09,448.40 461.62,451.65 462.15,452.30 462.68,452.64 463.21,450.60 463.74,451.80 464.27,453.42 464.80,454.87 465.33,452.60 465.86,451.64 466.39,453.62 466.92,456.52 467.45,456.68 467.98,456.69 468.51,456.59 469.05,457.43 469.58,457.60 470.11,455.17 470.64,454.30 471.17,457.61 471.70,454.39 472.23,456.79 472.76,455.54 473.29,455.22 473.82,455.29 474.35,459.48 474.75,463.87 475.08,446.89 475.83,415.72 476.25,430.21 476.79,447.71 477.21,446.66 477.96,413.81 478.39,434.11 478.92,446.30 479.35,446.24 480.10,414.51 480.52,429.67 481.06,446.85 481.48,444.43 482.23,413.79 482.66,429.83 483.19,445.14 483.62,443.47 484.37,415.77 484.79,431.65 485.33,446.11 485.75,443.75 486.50,414.65 486.93,432.07 487.46,446.07 487.89,443.71 488.63,413.49 489.06,429.52 489.60,444.98 490.02,444.33 490.77,415.97 491.20,429.20 491.73,446.09 492.16,444.14 492.90,411.77 493.33,429.06 493.87,445.54 494.29,444.74 495.04,410.86 495.47,428.92 496.00,442.31 496.43,442.07 497.17,412.98 497.60,427.32 498.13,442.60 498.56,443.84 499.31,413.11 499.74,431.18 500.27,443.60 500.70,441.22 501.44,414.42 501.87,428.35 502.40,444.43 502.83,444.27 503.58,410.60 504.01,429.70 504.54,444.39 504.97,443.73 505.71,410.26 506.14,427.64 506.67,444.27 507.10,443.17 507.85,407.84 508.28,429.17 508.81,441.91 509.24,442.19 509.98,408.65 510.41,426.91 510.94,440.78 511.37,441.48 512.12,412.03 512.55,428.76 513.08,443.21 513.51,440.11 514.25,412.13 514.68,429.22 515.21,439.58 515.64,442.22 516.39,406.82 516.82,428.60 517.35,441.21 517.78,441.87 518.52,406.85 518.95,425.60 519.48,440.28 519.91,439.56 520.66,406.21 521.08,426.65 521.62,440.16 522.05,440.49 522.79,410.65 523.22,423.86 523.75,439.92 524.18,438.82 524.93,409.67 525.35,425.04 525.89,440.15 525.80,426.14 526.33,430.54 526.86,430.79 527.39,431.55 527.92,434.69 528.45,433.80 528.98,434.18 529.51,436.69 530.04,436.77 530.57,437.98 531.10,440.69 531.63,441.01 532.16,439.04 532.69,442.81 533.22,443.19 533.75,445.49 534.28,445.63 534.81,446.56 535.35,443.83 535.88,445.37 536.41,445.32 536.94,445.40 537.47,447.61 538.00,446.72 538.53,448.98 539.06,449.97 539.59,448.09 540.12,448.72 540.65,448.93 541.18,451.39 541.71,450.49 542.24,452.48 542.77,450.21 543.30,450.89 543.83,453.99 544.36,451.45 544.89,455.06 545.42,455.74 545.95,453.23 546.48,455.38 547.01,454.63 547.54,454.34 548.07,457.22 548.61,454.31 549.14,456.60 549.67,456.11 550.20,456.69 550.73,455.12 551.26,455.28 551.79,457.48 552.32,458.46 552.85,457.76 552.98,465.77 553.31,445.22 554.06,417.80 554.49,432.96 555.02,443.88 555.45,443.86 556.19,411.92 556.62,428.54 557.16,443.19 557.58,444.84 558.33,416.88 558.76,431.69 559.29,444.50 559.72,444.00 560.46,414.27 560.89,431.22 561.42,442.76 561.85,444.65 562.60,414.58 563.03,428.32 563.56,442.67 563.99,444.34 564.73,415.78 565.16,428.49 565.69,445.43 566.12,444.71 566.87,413.76 567.30,429.63 567.83,444.58 568.26,444.76 569.00,415.63 569.43,428.22 569.96,443.18 570.39,440.97 571.14,411.75 571.57,426.93 572.10,444.56 572.53,443.73 573.27,416.45 573.70,429.46 574.23,443.14 574.66,443.97 575.41,412.88 575.84,430.95 576.37,442.98 576.80,442.97 577.54,411.06 577.97,429.07 578.50,442.92 578.93,443.48 579.68,413.22 580.10,427.78 580.64,441.08 581.07,439.92 581.81,410.63 582.24,429.47 582.77,442.87 583.20,440.24 583.95,410.55 584.37,427.92 584.91,439.97 585.34,440.77 586.08,413.59 586.51,429.41 587.04,442.80 587.47,440.16 588.22,409.48 588.64,425.44 589.18,440.83 589.61,439.81 590.35,409.09 590.78,425.68 591.31,440.05 591.74,440.51 592.49,411.49 592.91,428.70 593.45,441.39 593.87,439.22 594.62,408.29" fill="none" stroke="#6aa6d4" stroke-width="0.85" stroke-linejoin="round" stroke-linecap="round" />
<text x="359.00" y="403.70" font-size="12.8" text-anchor="end" fill="#111" >0</text>
<line x1="362.70" y1="380.50" x2="365.70" y2="380.50" stroke="#161616" stroke-width="1.25" />
<text x="359.00" y="384.90" font-size="12.8" text-anchor="end" fill="#111" >50</text>
<line x1="362.70" y1="361.70" x2="365.70" y2="361.70" stroke="#161616" stroke-width="1.25" />
<text x="359.00" y="366.10" font-size="12.8" text-anchor="end" fill="#111" >100</text>
<line x1="362.70" y1="342.90" x2="365.70" y2="342.90" stroke="#161616" stroke-width="1.25" />
<text x="359.00" y="347.30" font-size="12.8" text-anchor="end" fill="#111" >150</text>
<text x="359.00" y="470.80" font-size="12.8" text-anchor="end" fill="#111" >0</text>
<line x1="362.70" y1="447.41" x2="365.70" y2="447.41" stroke="#161616" stroke-width="1.25" />
<text x="359.00" y="451.81" font-size="12.8" text-anchor="end" fill="#111" >3</text>
<line x1="362.70" y1="428.42" x2="365.70" y2="428.42" stroke="#161616" stroke-width="1.25" />
<text x="359.00" y="432.82" font-size="12.8" text-anchor="end" fill="#111" >6</text>
<line x1="362.70" y1="409.43" x2="365.70" y2="409.43" stroke="#161616" stroke-width="1.25" />
<text x="359.00" y="413.83" font-size="12.8" text-anchor="end" fill="#111" >9</text>
<text x="362.70" y="480.70" font-size="12.8" text-anchor="middle" fill="#111" >0</text>
<line x1="395.85" y1="399.30" x2="395.85" y2="396.30" stroke="#161616" stroke-width="1.25" />
<line x1="395.85" y1="466.40" x2="395.85" y2="463.40" stroke="#161616" stroke-width="1.25" />
<text x="395.85" y="480.70" font-size="12.8" text-anchor="middle" fill="#111" >5</text>
<line x1="429.00" y1="399.30" x2="429.00" y2="396.30" stroke="#161616" stroke-width="1.25" />
<line x1="429.00" y1="466.40" x2="429.00" y2="463.40" stroke="#161616" stroke-width="1.25" />
<text x="429.00" y="480.70" font-size="12.8" text-anchor="middle" fill="#111" >10</text>
<line x1="462.15" y1="399.30" x2="462.15" y2="396.30" stroke="#161616" stroke-width="1.25" />
<line x1="462.15" y1="466.40" x2="462.15" y2="463.40" stroke="#161616" stroke-width="1.25" />
<text x="462.15" y="480.70" font-size="12.8" text-anchor="middle" fill="#111" >15</text>
<line x1="495.30" y1="399.30" x2="495.30" y2="396.30" stroke="#161616" stroke-width="1.25" />
<line x1="495.30" y1="466.40" x2="495.30" y2="463.40" stroke="#161616" stroke-width="1.25" />
<text x="495.30" y="480.70" font-size="12.8" text-anchor="middle" fill="#111" >20</text>
<line x1="528.45" y1="399.30" x2="528.45" y2="396.30" stroke="#161616" stroke-width="1.25" />
<line x1="528.45" y1="466.40" x2="528.45" y2="463.40" stroke="#161616" stroke-width="1.25" />
<text x="528.45" y="480.70" font-size="12.8" text-anchor="middle" fill="#111" >25</text>
<line x1="561.60" y1="399.30" x2="561.60" y2="396.30" stroke="#161616" stroke-width="1.25" />
<line x1="561.60" y1="466.40" x2="561.60" y2="463.40" stroke="#161616" stroke-width="1.25" />
<text x="561.60" y="480.70" font-size="12.8" text-anchor="middle" fill="#111" >30</text>
<text x="594.75" y="480.70" font-size="12.8" text-anchor="middle" fill="#111" >35</text>
<text x="479.30" y="494.20" font-size="13.2" text-anchor="middle" fill="#111" >Time (s)</text>
<text x="367.50" y="346.70" font-size="10.3" text-anchor="start" fill="#111" >(mm)</text>
<text x="367.50" y="414.80" font-size="10.3" text-anchor="start" fill="#111" >(mm/s)</text>
<text transform="translate(332.80,366.10) rotate(-90)" font-size="13.2" text-anchor="middle" fill="#111">Distance</text>
<text transform="translate(332.00,433.00) rotate(-90)" font-size="13.2" text-anchor="middle" fill="#111">Speed</text>
<rect x="362.70" y="332.90" width="232.30" height="133.50" fill="none" stroke="#161616" stroke-width="1.5"/>
<line x1="362.70" y1="399.30" x2="595.00" y2="399.30" stroke="#161616" stroke-width="1.5" />
<polyline points="362.70,398.80 364.90,398.79 367.98,398.77 371.61,398.76 375.47,398.73 379.24,398.71 382.59,398.69 385.65,398.66 388.70,398.64 391.66,398.61 394.45,398.58 396.98,398.55 399.16,398.50 400.89,398.46 402.21,398.44 403.27,398.40 404.22,398.34 405.23,398.23 406.46,398.05 407.88,397.79 409.38,397.47 410.93,397.10 412.52,396.69 414.13,396.25 415.74,395.79 417.36,395.30 419.01,394.76 420.67,394.19 422.35,393.61 424.02,393.01 425.69,392.41 427.33,391.80 428.98,391.17 430.62,390.53 432.27,389.89 433.93,389.26 435.63,388.65 437.37,388.05 439.17,387.45 440.98,386.86 442.78,386.29 444.54,385.76 446.24,385.26 447.85,384.81 449.41,384.39 450.92,384.01 452.43,383.65 453.95,383.32 455.52,383.01 457.15,382.73 458.81,382.50 460.49,382.28 462.17,382.09 463.84,381.89 465.46,381.69 467.04,381.51 468.56,381.35 470.06,381.20 471.58,381.03 473.13,380.80 474.75,380.49 476.45,380.08 478.21,379.60 480.01,379.06 481.82,378.50 483.61,377.93 485.36,377.37 487.01,376.83 488.60,376.30 490.16,375.76 491.76,375.21 493.46,374.62 495.30,373.98 497.32,373.30 499.47,372.58 501.72,371.82 504.02,371.05 506.31,370.26 508.56,369.47 510.88,368.64 513.32,367.76 515.77,366.86 518.09,366.00 520.15,365.23 521.82,364.58 523.00,364.09 523.76,363.72 524.26,363.43 524.67,363.19 525.13,362.96 525.80,362.70 526.63,362.44 527.49,362.20 528.41,361.98 529.41,361.74 530.52,361.49 531.76,361.20 533.18,360.87 534.74,360.50 536.41,360.12 538.15,359.72 539.93,359.33 541.71,358.94 543.54,358.57 545.47,358.19 547.43,357.82 549.37,357.44 551.24,357.06 552.98,356.69 554.52,356.34 555.88,356.02 557.17,355.70 558.48,355.35 559.93,354.94 561.60,354.43 563.54,353.81 565.68,353.11 567.94,352.34 570.27,351.54 572.60,350.72 574.86,349.92 577.15,349.10 579.53,348.22 581.90,347.34 584.19,346.48 586.29,345.70 588.12,345.03 589.69,344.48 591.07,344.00 592.26,343.60 593.28,343.26 594.11,342.99 594.75,342.78" fill="none" stroke="#e05a67" stroke-width="1.5" stroke-linejoin="round" stroke-linecap="round" />
<text x="641.30" y="262.00" font-size="10.1" text-anchor="middle" fill="#111" >Tail trajectory</text>
<rect x="607.7" y="267.2" width="64.1" height="209.8" rx="11" ry="11" fill="none" stroke="#151515" stroke-width="1.35" stroke-dasharray="4.8,3.0" stroke-dashoffset="1"/>
<line x1="624.40" y1="277.71" x2="620.34" y2="278.63" stroke="#ec2a28" stroke-width="0.95" />
<line x1="620.34" y1="278.63" x2="624.27" y2="279.99" stroke="#ec2c29" stroke-width="0.95" />
<line x1="624.27" y1="279.99" x2="620.21" y2="280.91" stroke="#ec2e29" stroke-width="0.95" />
<line x1="620.21" y1="280.91" x2="624.14" y2="282.28" stroke="#ec3029" stroke-width="0.95" />
<line x1="624.14" y1="282.28" x2="620.08" y2="283.19" stroke="#ec332a" stroke-width="0.95" />
<line x1="620.08" y1="283.19" x2="624.02" y2="284.56" stroke="#ed352a" stroke-width="0.95" />
<line x1="624.02" y1="284.56" x2="619.96" y2="285.47" stroke="#ed372b" stroke-width="0.95" />
<line x1="619.96" y1="285.47" x2="623.89" y2="286.84" stroke="#ed392b" stroke-width="0.95" />
<line x1="623.89" y1="286.84" x2="619.83" y2="287.76" stroke="#ed3c2c" stroke-width="0.95" />
<line x1="619.83" y1="287.76" x2="623.76" y2="289.12" stroke="#ed3e2c" stroke-width="0.95" />
<line x1="623.76" y1="289.12" x2="619.70" y2="290.04" stroke="#ee402d" stroke-width="0.95" />
<line x1="619.70" y1="290.04" x2="623.63" y2="291.40" stroke="#ee422d" stroke-width="0.95" />
<line x1="623.63" y1="291.40" x2="619.58" y2="292.32" stroke="#ee452e" stroke-width="0.95" />
<line x1="619.58" y1="292.32" x2="623.51" y2="293.68" stroke="#ee472e" stroke-width="0.95" />
<line x1="623.51" y1="293.68" x2="619.45" y2="294.60" stroke="#ee492f" stroke-width="0.95" />
<line x1="619.45" y1="294.60" x2="623.38" y2="295.97" stroke="#ef4b2f" stroke-width="0.95" />
<line x1="623.38" y1="295.97" x2="619.32" y2="296.88" stroke="#ef4e30" stroke-width="0.95" />
<line x1="619.32" y1="296.88" x2="623.25" y2="298.25" stroke="#ef5030" stroke-width="0.95" />
<line x1="623.25" y1="298.25" x2="619.19" y2="299.17" stroke="#ef5231" stroke-width="0.95" />
<line x1="619.19" y1="299.17" x2="623.12" y2="300.53" stroke="#ef5431" stroke-width="0.95" />
<line x1="623.12" y1="300.53" x2="619.07" y2="301.45" stroke="#f05832" stroke-width="0.95" />
<line x1="619.07" y1="301.45" x2="622.97" y2="302.36" stroke="#f05b32" stroke-width="0.95" />
<line x1="622.97" y1="302.36" x2="619.23" y2="304.17" stroke="#f16032" stroke-width="0.95" />
<line x1="619.23" y1="304.17" x2="623.36" y2="304.60" stroke="#f16532" stroke-width="0.95" />
<line x1="623.36" y1="304.60" x2="619.62" y2="306.41" stroke="#f16932" stroke-width="0.95" />
<line x1="619.62" y1="306.41" x2="623.75" y2="306.84" stroke="#f26d32" stroke-width="0.95" />
<line x1="623.75" y1="306.84" x2="620.01" y2="308.65" stroke="#f27132" stroke-width="0.95" />
<line x1="620.01" y1="308.65" x2="624.15" y2="309.08" stroke="#f27532" stroke-width="0.95" />
<line x1="624.15" y1="309.08" x2="620.40" y2="310.89" stroke="#f37932" stroke-width="0.95" />
<line x1="620.40" y1="310.89" x2="624.54" y2="311.32" stroke="#f37d32" stroke-width="0.95" />
<line x1="624.54" y1="311.32" x2="620.79" y2="313.13" stroke="#f48132" stroke-width="0.95" />
<line x1="620.79" y1="313.13" x2="624.93" y2="313.56" stroke="#f48532" stroke-width="0.95" />
<line x1="624.93" y1="313.56" x2="621.18" y2="315.37" stroke="#f48a32" stroke-width="0.95" />
<line x1="621.18" y1="315.37" x2="625.32" y2="315.81" stroke="#f48d32" stroke-width="0.95" />
<line x1="625.32" y1="315.81" x2="621.58" y2="317.62" stroke="#f49133" stroke-width="0.95" />
<line x1="621.58" y1="317.62" x2="625.71" y2="318.05" stroke="#f49533" stroke-width="0.95" />
<line x1="625.71" y1="318.05" x2="621.97" y2="319.86" stroke="#f49934" stroke-width="0.95" />
<line x1="621.97" y1="319.86" x2="626.10" y2="320.29" stroke="#f39c35" stroke-width="0.95" />
<line x1="626.10" y1="320.29" x2="622.36" y2="322.10" stroke="#f3a036" stroke-width="0.95" />
<line x1="622.36" y1="322.10" x2="626.50" y2="322.53" stroke="#f3a436" stroke-width="0.95" />
<line x1="626.50" y1="322.53" x2="622.75" y2="324.34" stroke="#f3a837" stroke-width="0.95" />
<line x1="622.75" y1="324.34" x2="626.89" y2="324.77" stroke="#f3ab38" stroke-width="0.95" />
<line x1="626.89" y1="324.77" x2="623.14" y2="326.58" stroke="#f2af39" stroke-width="0.95" />
<line x1="623.14" y1="326.58" x2="627.28" y2="327.01" stroke="#f2b339" stroke-width="0.95" />
<line x1="627.28" y1="327.01" x2="623.53" y2="328.82" stroke="#f2b73a" stroke-width="0.95" />
<line x1="623.53" y1="328.82" x2="627.67" y2="329.26" stroke="#f2ba3b" stroke-width="0.95" />
<line x1="622.20" y1="330.40" x2="629.20" y2="330.40" stroke="#efc050" stroke-width="0.8" />
<line x1="625.70" y1="330.40" x2="629.80" y2="347.50" stroke="#e8e040" stroke-width="0.9" />
<line x1="632.29" y1="347.79" x2="628.43" y2="349.31" stroke="#c4e732" stroke-width="0.95" />
<line x1="628.43" y1="349.31" x2="632.52" y2="349.99" stroke="#c1e732" stroke-width="0.95" />
<line x1="632.52" y1="349.99" x2="628.66" y2="351.52" stroke="#bee732" stroke-width="0.95" />
<line x1="628.66" y1="351.52" x2="632.76" y2="352.20" stroke="#bbe632" stroke-width="0.95" />
<line x1="632.76" y1="352.20" x2="628.90" y2="353.72" stroke="#b9e632" stroke-width="0.95" />
<line x1="628.90" y1="353.72" x2="632.99" y2="354.40" stroke="#b6e632" stroke-width="0.95" />
<line x1="632.99" y1="354.40" x2="629.13" y2="355.93" stroke="#b3e532" stroke-width="0.95" />
<line x1="629.13" y1="355.93" x2="633.23" y2="356.60" stroke="#b0e532" stroke-width="0.95" />
<line x1="633.23" y1="356.60" x2="629.37" y2="358.13" stroke="#aee532" stroke-width="0.95" />
<line x1="629.37" y1="358.13" x2="633.46" y2="358.81" stroke="#abe532" stroke-width="0.95" />
<line x1="633.46" y1="358.81" x2="629.60" y2="360.33" stroke="#a8e432" stroke-width="0.95" />
<line x1="629.60" y1="360.33" x2="633.70" y2="361.01" stroke="#a5e432" stroke-width="0.95" />
<line x1="633.70" y1="361.01" x2="629.84" y2="362.54" stroke="#a3e432" stroke-width="0.95" />
<line x1="629.84" y1="362.54" x2="633.93" y2="363.22" stroke="#a0e432" stroke-width="0.95" />
<line x1="633.93" y1="363.22" x2="630.07" y2="364.74" stroke="#9de332" stroke-width="0.95" />
<line x1="630.07" y1="364.74" x2="634.17" y2="365.42" stroke="#9ae332" stroke-width="0.95" />
<line x1="634.17" y1="365.42" x2="630.31" y2="366.94" stroke="#98e332" stroke-width="0.95" />
<line x1="630.31" y1="366.94" x2="634.40" y2="367.62" stroke="#95e232" stroke-width="0.95" />
<line x1="634.40" y1="367.62" x2="630.54" y2="369.15" stroke="#92e232" stroke-width="0.95" />
<line x1="630.54" y1="369.15" x2="634.63" y2="369.83" stroke="#8fe232" stroke-width="0.95" />
<line x1="634.63" y1="369.83" x2="630.77" y2="371.35" stroke="#8de232" stroke-width="0.95" />
<line x1="630.77" y1="371.35" x2="634.87" y2="372.03" stroke="#8ae132" stroke-width="0.95" />
<line x1="634.87" y1="372.03" x2="631.01" y2="373.56" stroke="#87e132" stroke-width="0.95" />
<line x1="631.01" y1="373.56" x2="635.10" y2="374.23" stroke="#84e132" stroke-width="0.95" />
<line x1="635.10" y1="374.23" x2="631.24" y2="375.76" stroke="#82e132" stroke-width="0.95" />
<line x1="631.24" y1="375.76" x2="635.34" y2="376.44" stroke="#7fe032" stroke-width="0.95" />
<line x1="635.34" y1="376.44" x2="631.48" y2="377.96" stroke="#7ce032" stroke-width="0.95" />
<line x1="631.48" y1="377.96" x2="635.57" y2="378.64" stroke="#79df32" stroke-width="0.95" />
<line x1="635.57" y1="378.64" x2="631.71" y2="380.17" stroke="#76df32" stroke-width="0.95" />
<line x1="631.71" y1="380.17" x2="635.81" y2="380.85" stroke="#73df32" stroke-width="0.95" />
<line x1="635.81" y1="380.85" x2="631.95" y2="382.37" stroke="#70de32" stroke-width="0.95" />
<line x1="631.95" y1="382.37" x2="636.04" y2="383.05" stroke="#6dde32" stroke-width="0.95" />
<line x1="636.04" y1="383.05" x2="632.18" y2="384.58" stroke="#6ade32" stroke-width="0.95" />
<line x1="632.18" y1="384.58" x2="636.28" y2="385.25" stroke="#67dd32" stroke-width="0.95" />
<line x1="636.28" y1="385.25" x2="632.42" y2="386.78" stroke="#64dd32" stroke-width="0.95" />
<line x1="632.42" y1="386.78" x2="636.51" y2="387.46" stroke="#61dc32" stroke-width="0.95" />
<line x1="636.51" y1="387.46" x2="632.65" y2="388.98" stroke="#5edc32" stroke-width="0.95" />
<line x1="632.65" y1="388.98" x2="636.75" y2="389.66" stroke="#5bdc32" stroke-width="0.95" />
<line x1="636.75" y1="389.66" x2="632.89" y2="391.19" stroke="#58db32" stroke-width="0.95" />
<line x1="632.89" y1="391.19" x2="636.98" y2="391.87" stroke="#55db32" stroke-width="0.95" />
<line x1="636.98" y1="391.87" x2="633.12" y2="393.39" stroke="#52db32" stroke-width="0.95" />
<line x1="633.12" y1="393.39" x2="637.22" y2="394.07" stroke="#50da32" stroke-width="0.95" />
<line x1="637.22" y1="394.07" x2="633.36" y2="395.59" stroke="#4dda32" stroke-width="0.95" />
<line x1="633.36" y1="395.59" x2="637.45" y2="396.27" stroke="#4ada32" stroke-width="0.95" />
<line x1="637.45" y1="396.27" x2="633.59" y2="397.80" stroke="#47d932" stroke-width="0.95" />
<line x1="633.59" y1="397.80" x2="637.68" y2="398.48" stroke="#44d932" stroke-width="0.95" />
<line x1="637.68" y1="398.48" x2="633.82" y2="400.00" stroke="#41d832" stroke-width="0.95" />
<line x1="633.82" y1="400.00" x2="637.92" y2="400.68" stroke="#3ed832" stroke-width="0.95" />
<line x1="637.92" y1="400.68" x2="634.06" y2="402.21" stroke="#3bd832" stroke-width="0.95" />
<line x1="634.06" y1="402.21" x2="638.15" y2="402.88" stroke="#38d732" stroke-width="0.95" />
<line x1="638.15" y1="402.88" x2="634.29" y2="404.41" stroke="#35d732" stroke-width="0.95" />
<line x1="634.29" y1="404.41" x2="638.39" y2="405.09" stroke="#32d732" stroke-width="0.95" />
<line x1="633.40" y1="405.80" x2="639.40" y2="405.80" stroke="#50cc50" stroke-width="0.8" />
<line x1="635.60" y1="405.80" x2="633.60" y2="420.20" stroke="#50d0a0" stroke-width="0.9" />
<line x1="635.59" y1="420.49" x2="631.51" y2="421.21" stroke="#31dbc9" stroke-width="0.95" />
<line x1="631.51" y1="421.21" x2="635.39" y2="422.69" stroke="#30dacb" stroke-width="0.95" />
<line x1="635.39" y1="422.69" x2="631.30" y2="423.41" stroke="#2ed9ce" stroke-width="0.95" />
<line x1="631.30" y1="423.41" x2="635.18" y2="424.89" stroke="#2dd8d0" stroke-width="0.95" />
<line x1="635.18" y1="424.89" x2="631.09" y2="425.61" stroke="#2cd8d2" stroke-width="0.95" />
<line x1="631.09" y1="425.61" x2="634.97" y2="427.09" stroke="#2bd7d4" stroke-width="0.95" />
<line x1="634.97" y1="427.09" x2="630.89" y2="427.81" stroke="#2ad6d6" stroke-width="0.95" />
<line x1="630.89" y1="427.81" x2="634.77" y2="429.29" stroke="#29d5d9" stroke-width="0.95" />
<line x1="634.77" y1="429.29" x2="630.68" y2="430.01" stroke="#28d4db" stroke-width="0.95" />
<line x1="630.68" y1="430.01" x2="634.56" y2="431.49" stroke="#27d3dd" stroke-width="0.95" />
<line x1="634.56" y1="431.49" x2="630.47" y2="432.21" stroke="#26d3df" stroke-width="0.95" />
<line x1="630.47" y1="432.21" x2="634.35" y2="433.69" stroke="#25d2e1" stroke-width="0.95" />
<line x1="634.35" y1="433.69" x2="630.27" y2="434.41" stroke="#23d1e4" stroke-width="0.95" />
<line x1="630.27" y1="434.41" x2="634.15" y2="435.89" stroke="#22d0e6" stroke-width="0.95" />
<line x1="634.15" y1="435.89" x2="630.06" y2="436.61" stroke="#21cfe8" stroke-width="0.95" />
<line x1="630.06" y1="436.61" x2="633.94" y2="438.09" stroke="#20ceea" stroke-width="0.95" />
<line x1="633.94" y1="438.09" x2="629.86" y2="438.81" stroke="#1fceec" stroke-width="0.95" />
<line x1="629.86" y1="438.81" x2="633.74" y2="440.29" stroke="#1ecdef" stroke-width="0.95" />
<line x1="633.74" y1="440.29" x2="629.65" y2="441.01" stroke="#1dc9f0" stroke-width="0.95" />
<line x1="629.65" y1="441.01" x2="633.53" y2="442.49" stroke="#1cc4f0" stroke-width="0.95" />
<line x1="633.53" y1="442.49" x2="629.44" y2="443.21" stroke="#1cbff0" stroke-width="0.95" />
<line x1="629.44" y1="443.21" x2="633.32" y2="444.69" stroke="#1bbaf0" stroke-width="0.95" />
<line x1="633.32" y1="444.69" x2="629.24" y2="445.41" stroke="#1ab5f0" stroke-width="0.95" />
<line x1="629.24" y1="445.41" x2="633.12" y2="446.89" stroke="#1ab0f0" stroke-width="0.95" />
<line x1="633.12" y1="446.89" x2="629.03" y2="447.61" stroke="#19abf0" stroke-width="0.95" />
<line x1="629.03" y1="447.61" x2="632.91" y2="449.09" stroke="#18a5f0" stroke-width="0.95" />
<line x1="632.91" y1="449.09" x2="628.82" y2="449.81" stroke="#18a0f0" stroke-width="0.95" />
<line x1="628.82" y1="449.81" x2="632.70" y2="451.29" stroke="#179bf0" stroke-width="0.95" />
<line x1="632.70" y1="451.29" x2="628.62" y2="452.01" stroke="#1696f0" stroke-width="0.95" />
<line x1="628.62" y1="452.01" x2="632.50" y2="453.49" stroke="#1691f0" stroke-width="0.95" />
<line x1="632.50" y1="453.49" x2="628.41" y2="454.21" stroke="#158cf0" stroke-width="0.95" />
<line x1="628.41" y1="454.21" x2="632.29" y2="455.69" stroke="#1486f0" stroke-width="0.95" />
<line x1="627.80" y1="455.60" x2="631.80" y2="455.60" stroke="#3090f0" stroke-width="0.9" />
<line x1="636.20" y1="277.74" x2="632.13" y2="278.61" stroke="#ec2a28" stroke-width="0.95" />
<line x1="632.13" y1="278.61" x2="636.04" y2="280.02" stroke="#ec2c29" stroke-width="0.95" />
<line x1="636.04" y1="280.02" x2="631.97" y2="280.89" stroke="#ec2e29" stroke-width="0.95" />
<line x1="631.97" y1="280.89" x2="635.89" y2="282.30" stroke="#ec3029" stroke-width="0.95" />
<line x1="635.89" y1="282.30" x2="631.82" y2="283.17" stroke="#ec332a" stroke-width="0.95" />
<line x1="631.82" y1="283.17" x2="635.73" y2="284.58" stroke="#ed352a" stroke-width="0.95" />
<line x1="635.73" y1="284.58" x2="631.66" y2="285.45" stroke="#ed372b" stroke-width="0.95" />
<line x1="631.66" y1="285.45" x2="635.58" y2="286.86" stroke="#ed392b" stroke-width="0.95" />
<line x1="635.58" y1="286.86" x2="631.51" y2="287.73" stroke="#ed3c2c" stroke-width="0.95" />
<line x1="631.51" y1="287.73" x2="635.42" y2="289.14" stroke="#ed3e2c" stroke-width="0.95" />
<line x1="635.42" y1="289.14" x2="631.35" y2="290.01" stroke="#ee402d" stroke-width="0.95" />
<line x1="631.35" y1="290.01" x2="635.27" y2="291.43" stroke="#ee422d" stroke-width="0.95" />
<line x1="635.27" y1="291.43" x2="631.20" y2="292.30" stroke="#ee452e" stroke-width="0.95" />
<line x1="631.20" y1="292.30" x2="635.11" y2="293.71" stroke="#ee472e" stroke-width="0.95" />
<line x1="635.11" y1="293.71" x2="631.05" y2="294.58" stroke="#ee492f" stroke-width="0.95" />
<line x1="631.05" y1="294.58" x2="634.96" y2="295.99" stroke="#ef4b2f" stroke-width="0.95" />
<line x1="634.96" y1="295.99" x2="630.89" y2="296.86" stroke="#ef4e30" stroke-width="0.95" />
<line x1="630.89" y1="296.86" x2="634.80" y2="298.27" stroke="#ef5030" stroke-width="0.95" />
<line x1="634.80" y1="298.27" x2="630.74" y2="299.14" stroke="#ef5231" stroke-width="0.95" />
<line x1="630.74" y1="299.14" x2="634.65" y2="300.55" stroke="#ef5431" stroke-width="0.95" />
<line x1="634.65" y1="300.55" x2="630.58" y2="301.42" stroke="#f05832" stroke-width="0.95" />
<line x1="630.58" y1="301.42" x2="634.47" y2="302.33" stroke="#f05b32" stroke-width="0.95" />
<line x1="634.47" y1="302.33" x2="630.74" y2="304.19" stroke="#f16032" stroke-width="0.95" />
<line x1="630.74" y1="304.19" x2="634.88" y2="304.58" stroke="#f16532" stroke-width="0.95" />
<line x1="634.88" y1="304.58" x2="631.16" y2="306.43" stroke="#f16932" stroke-width="0.95" />
<line x1="631.16" y1="306.43" x2="635.30" y2="306.82" stroke="#f26d32" stroke-width="0.95" />
<line x1="635.30" y1="306.82" x2="631.58" y2="308.67" stroke="#f27132" stroke-width="0.95" />
<line x1="631.58" y1="308.67" x2="635.72" y2="309.06" stroke="#f27532" stroke-width="0.95" />
<line x1="635.72" y1="309.06" x2="631.99" y2="310.91" stroke="#f37932" stroke-width="0.95" />
<line x1="631.99" y1="310.91" x2="636.13" y2="311.30" stroke="#f37d32" stroke-width="0.95" />
<line x1="636.13" y1="311.30" x2="632.41" y2="313.15" stroke="#f48132" stroke-width="0.95" />
<line x1="632.41" y1="313.15" x2="636.55" y2="313.54" stroke="#f48532" stroke-width="0.95" />
<line x1="636.55" y1="313.54" x2="632.83" y2="315.39" stroke="#f48a32" stroke-width="0.95" />
<line x1="632.83" y1="315.39" x2="636.97" y2="315.78" stroke="#f48d32" stroke-width="0.95" />
<line x1="636.97" y1="315.78" x2="633.24" y2="317.64" stroke="#f49133" stroke-width="0.95" />
<line x1="633.24" y1="317.64" x2="637.38" y2="318.03" stroke="#f49533" stroke-width="0.95" />
<line x1="637.38" y1="318.03" x2="633.66" y2="319.88" stroke="#f49934" stroke-width="0.95" />
<line x1="633.66" y1="319.88" x2="637.80" y2="320.27" stroke="#f39c35" stroke-width="0.95" />
<line x1="637.80" y1="320.27" x2="634.08" y2="322.12" stroke="#f3a036" stroke-width="0.95" />
<line x1="634.08" y1="322.12" x2="638.22" y2="322.51" stroke="#f3a436" stroke-width="0.95" />
<line x1="638.22" y1="322.51" x2="634.49" y2="324.36" stroke="#f3a837" stroke-width="0.95" />
<line x1="634.49" y1="324.36" x2="638.63" y2="324.75" stroke="#f3ab38" stroke-width="0.95" />
<line x1="638.63" y1="324.75" x2="634.91" y2="326.60" stroke="#f2af39" stroke-width="0.95" />
<line x1="634.91" y1="326.60" x2="639.05" y2="326.99" stroke="#f2b339" stroke-width="0.95" />
<line x1="639.05" y1="326.99" x2="635.33" y2="328.84" stroke="#f2b73a" stroke-width="0.95" />
<line x1="635.33" y1="328.84" x2="639.47" y2="329.23" stroke="#f2ba3b" stroke-width="0.95" />
<line x1="634.00" y1="330.40" x2="641.00" y2="330.40" stroke="#efc050" stroke-width="0.8" />
<line x1="637.50" y1="330.40" x2="643.80" y2="347.50" stroke="#e8e040" stroke-width="0.9" />
<line x1="645.59" y1="347.83" x2="641.70" y2="349.28" stroke="#c4e732" stroke-width="0.95" />
<line x1="641.70" y1="349.28" x2="645.78" y2="350.03" stroke="#c1e732" stroke-width="0.95" />
<line x1="645.78" y1="350.03" x2="641.90" y2="351.48" stroke="#bee732" stroke-width="0.95" />
<line x1="641.90" y1="351.48" x2="645.98" y2="352.23" stroke="#bbe632" stroke-width="0.95" />
<line x1="645.98" y1="352.23" x2="642.09" y2="353.68" stroke="#b9e632" stroke-width="0.95" />
<line x1="642.09" y1="353.68" x2="646.17" y2="354.44" stroke="#b6e632" stroke-width="0.95" />
<line x1="646.17" y1="354.44" x2="642.28" y2="355.89" stroke="#b3e532" stroke-width="0.95" />
<line x1="642.28" y1="355.89" x2="646.36" y2="356.64" stroke="#b0e532" stroke-width="0.95" />
<line x1="646.36" y1="356.64" x2="642.47" y2="358.09" stroke="#aee532" stroke-width="0.95" />
<line x1="642.47" y1="358.09" x2="646.55" y2="358.85" stroke="#abe532" stroke-width="0.95" />
<line x1="646.55" y1="358.85" x2="642.67" y2="360.30" stroke="#a8e432" stroke-width="0.95" />
<line x1="642.67" y1="360.30" x2="646.75" y2="361.05" stroke="#a5e432" stroke-width="0.95" />
<line x1="646.75" y1="361.05" x2="642.86" y2="362.50" stroke="#a3e432" stroke-width="0.95" />
<line x1="642.86" y1="362.50" x2="646.94" y2="363.25" stroke="#a0e432" stroke-width="0.95" />
<line x1="646.94" y1="363.25" x2="643.05" y2="364.70" stroke="#9de332" stroke-width="0.95" />
<line x1="643.05" y1="364.70" x2="647.13" y2="365.46" stroke="#9ae332" stroke-width="0.95" />
<line x1="647.13" y1="365.46" x2="643.24" y2="366.91" stroke="#98e332" stroke-width="0.95" />
<line x1="643.24" y1="366.91" x2="647.32" y2="367.66" stroke="#95e232" stroke-width="0.95" />
<line x1="647.32" y1="367.66" x2="643.43" y2="369.11" stroke="#92e232" stroke-width="0.95" />
<line x1="643.43" y1="369.11" x2="647.52" y2="369.86" stroke="#8fe232" stroke-width="0.95" />
<line x1="647.52" y1="369.86" x2="643.63" y2="371.31" stroke="#8de232" stroke-width="0.95" />
<line x1="643.63" y1="371.31" x2="647.71" y2="372.07" stroke="#8ae132" stroke-width="0.95" />
<line x1="647.71" y1="372.07" x2="643.82" y2="373.52" stroke="#87e132" stroke-width="0.95" />
<line x1="643.82" y1="373.52" x2="647.90" y2="374.27" stroke="#84e132" stroke-width="0.95" />
<line x1="647.90" y1="374.27" x2="644.01" y2="375.72" stroke="#82e132" stroke-width="0.95" />
<line x1="644.01" y1="375.72" x2="648.09" y2="376.48" stroke="#7fe032" stroke-width="0.95" />
<line x1="648.09" y1="376.48" x2="644.20" y2="377.93" stroke="#7ce032" stroke-width="0.95" />
<line x1="644.20" y1="377.93" x2="648.28" y2="378.68" stroke="#79df32" stroke-width="0.95" />
<line x1="648.28" y1="378.68" x2="644.40" y2="380.13" stroke="#76df32" stroke-width="0.95" />
<line x1="644.40" y1="380.13" x2="648.48" y2="380.88" stroke="#73df32" stroke-width="0.95" />
<line x1="648.48" y1="380.88" x2="644.59" y2="382.33" stroke="#70de32" stroke-width="0.95" />
<line x1="644.59" y1="382.33" x2="648.67" y2="383.09" stroke="#6dde32" stroke-width="0.95" />
<line x1="648.67" y1="383.09" x2="644.78" y2="384.54" stroke="#6ade32" stroke-width="0.95" />
<line x1="644.78" y1="384.54" x2="648.86" y2="385.29" stroke="#67dd32" stroke-width="0.95" />
<line x1="648.86" y1="385.29" x2="644.97" y2="386.74" stroke="#64dd32" stroke-width="0.95" />
<line x1="644.97" y1="386.74" x2="649.05" y2="387.50" stroke="#61dc32" stroke-width="0.95" />
<line x1="649.05" y1="387.50" x2="645.17" y2="388.95" stroke="#5edc32" stroke-width="0.95" />
<line x1="645.17" y1="388.95" x2="649.25" y2="389.70" stroke="#5bdc32" stroke-width="0.95" />
<line x1="649.25" y1="389.70" x2="645.36" y2="391.15" stroke="#58db32" stroke-width="0.95" />
<line x1="645.36" y1="391.15" x2="649.44" y2="391.90" stroke="#55db32" stroke-width="0.95" />
<line x1="649.44" y1="391.90" x2="645.55" y2="393.35" stroke="#52db32" stroke-width="0.95" />
<line x1="645.55" y1="393.35" x2="649.63" y2="394.11" stroke="#50da32" stroke-width="0.95" />
<line x1="649.63" y1="394.11" x2="645.74" y2="395.56" stroke="#4dda32" stroke-width="0.95" />
<line x1="645.74" y1="395.56" x2="649.82" y2="396.31" stroke="#4ada32" stroke-width="0.95" />
<line x1="649.82" y1="396.31" x2="645.93" y2="397.76" stroke="#47d932" stroke-width="0.95" />
<line x1="645.93" y1="397.76" x2="650.02" y2="398.51" stroke="#44d932" stroke-width="0.95" />
<line x1="650.02" y1="398.51" x2="646.13" y2="399.96" stroke="#41d832" stroke-width="0.95" />
<line x1="646.13" y1="399.96" x2="650.21" y2="400.72" stroke="#3ed832" stroke-width="0.95" />
<line x1="650.21" y1="400.72" x2="646.32" y2="402.17" stroke="#3bd832" stroke-width="0.95" />
<line x1="646.32" y1="402.17" x2="650.40" y2="402.92" stroke="#38d732" stroke-width="0.95" />
<line x1="650.40" y1="402.92" x2="646.51" y2="404.37" stroke="#35d732" stroke-width="0.95" />
<line x1="646.51" y1="404.37" x2="650.59" y2="405.13" stroke="#32d732" stroke-width="0.95" />
<line x1="645.60" y1="405.80" x2="651.60" y2="405.80" stroke="#50cc50" stroke-width="0.8" />
<line x1="647.80" y1="405.80" x2="646.60" y2="420.20" stroke="#50d0a0" stroke-width="0.9" />
<line x1="648.59" y1="420.53" x2="644.49" y2="421.17" stroke="#31dbc9" stroke-width="0.95" />
<line x1="644.49" y1="421.17" x2="648.33" y2="422.73" stroke="#30dacb" stroke-width="0.95" />
<line x1="648.33" y1="422.73" x2="644.23" y2="423.37" stroke="#2ed9ce" stroke-width="0.95" />
<line x1="644.23" y1="423.37" x2="648.07" y2="424.93" stroke="#2dd8d0" stroke-width="0.95" />
<line x1="648.07" y1="424.93" x2="643.97" y2="425.57" stroke="#2cd8d2" stroke-width="0.95" />
<line x1="643.97" y1="425.57" x2="647.82" y2="427.13" stroke="#2bd7d4" stroke-width="0.95" />
<line x1="647.82" y1="427.13" x2="643.72" y2="427.77" stroke="#2ad6d6" stroke-width="0.95" />
<line x1="643.72" y1="427.77" x2="647.56" y2="429.33" stroke="#29d5d9" stroke-width="0.95" />
<line x1="647.56" y1="429.33" x2="643.46" y2="429.97" stroke="#28d4db" stroke-width="0.95" />
<line x1="643.46" y1="429.97" x2="647.31" y2="431.53" stroke="#27d3dd" stroke-width="0.95" />
<line x1="647.31" y1="431.53" x2="643.20" y2="432.17" stroke="#26d3df" stroke-width="0.95" />
<line x1="643.20" y1="432.17" x2="647.05" y2="433.73" stroke="#25d2e1" stroke-width="0.95" />
<line x1="647.05" y1="433.73" x2="642.95" y2="434.37" stroke="#23d1e4" stroke-width="0.95" />
<line x1="642.95" y1="434.37" x2="646.79" y2="435.93" stroke="#22d0e6" stroke-width="0.95" />
<line x1="646.79" y1="435.93" x2="642.69" y2="436.57" stroke="#21cfe8" stroke-width="0.95" />
<line x1="642.69" y1="436.57" x2="646.54" y2="438.13" stroke="#20ceea" stroke-width="0.95" />
<line x1="646.54" y1="438.13" x2="642.44" y2="438.77" stroke="#1fceec" stroke-width="0.95" />
<line x1="642.44" y1="438.77" x2="646.28" y2="440.33" stroke="#1ecdef" stroke-width="0.95" />
<line x1="646.28" y1="440.33" x2="642.18" y2="440.97" stroke="#1dc9f0" stroke-width="0.95" />
<line x1="642.18" y1="440.97" x2="646.02" y2="442.53" stroke="#1cc4f0" stroke-width="0.95" />
<line x1="646.02" y1="442.53" x2="641.92" y2="443.17" stroke="#1cbff0" stroke-width="0.95" />
<line x1="641.92" y1="443.17" x2="645.77" y2="444.73" stroke="#1bbaf0" stroke-width="0.95" />
<line x1="645.77" y1="444.73" x2="641.67" y2="445.37" stroke="#1ab5f0" stroke-width="0.95" />
<line x1="641.67" y1="445.37" x2="645.51" y2="446.93" stroke="#1ab0f0" stroke-width="0.95" />
<line x1="645.51" y1="446.93" x2="641.41" y2="447.57" stroke="#19abf0" stroke-width="0.95" />
<line x1="641.41" y1="447.57" x2="645.26" y2="449.13" stroke="#18a5f0" stroke-width="0.95" />
<line x1="645.26" y1="449.13" x2="641.15" y2="449.77" stroke="#18a0f0" stroke-width="0.95" />
<line x1="641.15" y1="449.77" x2="645.00" y2="451.33" stroke="#179bf0" stroke-width="0.95" />
<line x1="645.00" y1="451.33" x2="640.90" y2="451.97" stroke="#1696f0" stroke-width="0.95" />
<line x1="640.90" y1="451.97" x2="644.74" y2="453.53" stroke="#1691f0" stroke-width="0.95" />
<line x1="644.74" y1="453.53" x2="640.64" y2="454.17" stroke="#158cf0" stroke-width="0.95" />
<line x1="640.64" y1="454.17" x2="644.49" y2="455.73" stroke="#1486f0" stroke-width="0.95" />
<line x1="640.00" y1="455.60" x2="644.00" y2="455.60" stroke="#3090f0" stroke-width="0.9" />
<rect x="644.30" y="282.40" width="3.70" height="30.80" fill="url(#cbar)" />
<text x="650.60" y="287.70" font-size="10.3" text-anchor="start" fill="#111" >35 s</text>
<text x="650.60" y="317.30" font-size="10.3" text-anchor="start" fill="#111" >0</text>
<line x1="660.80" y1="445.30" x2="660.80" y2="456.30" stroke="#111" stroke-width="1.6" />
<text transform="translate(664.80,426.00) rotate(-90)" font-size="10.1" text-anchor="middle" fill="#111">10mm</text>
<line x1="637.50" y1="460.40" x2="660.40" y2="460.40" stroke="#111" stroke-width="1.6" />
<text x="650.20" y="471.80" font-size="10.1" text-anchor="middle" fill="#111" >10mm</text>
<text x="320.00" y="498.70" font-size="21.5" text-anchor="start" fill="#111" >g</text>
<text x="358.80" y="587.30" font-size="12.8" text-anchor="end" fill="#111" >0.0</text>
<line x1="362.60" y1="566.03" x2="365.60" y2="566.03" stroke="#161616" stroke-width="1.25" />
<text x="358.80" y="570.43" font-size="12.8" text-anchor="end" fill="#111" >0.5</text>
<line x1="362.60" y1="549.16" x2="365.60" y2="549.16" stroke="#161616" stroke-width="1.25" />
<text x="358.80" y="553.56" font-size="12.8" text-anchor="end" fill="#111" >1.0</text>
<line x1="362.60" y1="532.29" x2="365.60" y2="532.29" stroke="#161616" stroke-width="1.25" />
<text x="358.80" y="536.69" font-size="12.8" text-anchor="end" fill="#111" >1.5</text>
<text x="358.80" y="651.00" font-size="12.8" text-anchor="end" fill="#111" >0.0</text>
<line x1="362.60" y1="629.73" x2="365.60" y2="629.73" stroke="#161616" stroke-width="1.25" />
<text x="358.80" y="634.13" font-size="12.8" text-anchor="end" fill="#111" >0.5</text>
<line x1="362.60" y1="612.86" x2="365.60" y2="612.86" stroke="#161616" stroke-width="1.25" />
<text x="358.80" y="617.26" font-size="12.8" text-anchor="end" fill="#111" >1.0</text>
<line x1="362.60" y1="595.99" x2="365.60" y2="595.99" stroke="#161616" stroke-width="1.25" />
<text x="358.80" y="600.39" font-size="12.8" text-anchor="end" fill="#111" >1.5</text>
<text x="362.60" y="661.30" font-size="12.8" text-anchor="middle" fill="#111" >0.0</text>
<line x1="438.20" y1="582.90" x2="438.20" y2="579.90" stroke="#161616" stroke-width="1.25" />
<line x1="438.20" y1="646.60" x2="438.20" y2="643.60" stroke="#161616" stroke-width="1.25" />
<text x="438.20" y="661.30" font-size="12.8" text-anchor="middle" fill="#111" >0.5</text>
<line x1="513.80" y1="582.90" x2="513.80" y2="579.90" stroke="#161616" stroke-width="1.25" />
<line x1="513.80" y1="646.60" x2="513.80" y2="643.60" stroke="#161616" stroke-width="1.25" />
<text x="513.80" y="661.30" font-size="12.8" text-anchor="middle" fill="#111" >1.0</text>
<line x1="589.40" y1="582.90" x2="589.40" y2="579.90" stroke="#161616" stroke-width="1.25" />
<line x1="589.40" y1="646.60" x2="589.40" y2="643.60" stroke="#161616" stroke-width="1.25" />
<text x="589.40" y="661.30" font-size="12.8" text-anchor="middle" fill="#111" >1.5</text>
<text x="665.00" y="661.30" font-size="12.8" text-anchor="middle" fill="#111" >2.0</text>
<text x="513.60" y="672.20" font-size="13.2" text-anchor="middle" fill="#111" >Time (s)</text>
<text transform="translate(330.20,577.00) rotate(-90)" font-size="13.2" text-anchor="middle" fill="#111">Tail displacement (mm)</text>
<text x="371.20" y="530.80" font-size="11.9" text-anchor="start" fill="#111" >Stimulation: off</text>
<text x="371.20" y="595.40" font-size="11.9" text-anchor="start" fill="#111" >Stimulation: on</text>
<polyline points="362.60,582.90 372.80,574.90 378.20,565.40 382.20,565.00 387.60,564.90 392.20,576.10 397.40,578.20 402.70,582.90 407.90,577.70 413.30,575.40 417.90,576.00 423.10,575.40 428.20,578.20 432.90,571.90 438.30,574.20 448.30,570.70 458.10,573.10 463.50,576.10 468.60,574.50 473.80,575.90 478.70,575.20 483.30,579.60 488.50,579.60 493.60,579.10 499.00,573.10 503.70,570.30 508.80,566.10 515.10,567.50 519.70,569.50 529.20,579.00 534.30,577.70 539.40,579.00 544.50,574.40 549.60,574.40 554.70,575.90 559.80,578.20 564.40,579.00 569.30,576.40 574.60,570.00 584.60,559.80 594.30,568.80 599.40,580.30 604.50,582.80 609.60,581.50 614.80,568.00 625.00,568.00 630.10,574.40 640.30,573.10 644.90,570.00 650.00,575.10 655.60,577.20 660.70,577.20 665.30,571.80" fill="none" stroke="#e05a67" stroke-width="1.5" stroke-linejoin="round" stroke-linecap="round" />
<polyline points="362.60,646.60 366.60,643.23 370.60,633.78 375.10,617.92 379.60,604.43 383.10,599.36 387.80,599.70 395.60,615.56 399.10,622.31 402.60,627.71 406.60,639.85 411.10,646.60 414.10,645.59 417.00,643.23 421.00,633.78 430.00,613.53 438.00,597.68 441.50,602.40 446.00,615.56 449.50,622.31 453.00,627.71 457.00,639.85 461.50,646.60 464.50,645.59 467.40,643.23 471.40,633.78 480.40,613.53 488.40,598.35 491.90,603.08 496.40,615.56 499.90,622.31 503.40,627.71 507.40,639.85 511.90,646.60 514.90,645.59 517.80,643.23 521.80,633.78 530.80,613.53 538.80,597.68 542.30,602.40 546.80,615.56 550.30,622.31 553.80,627.71 557.80,639.85 562.30,646.60 565.30,645.59 568.20,643.23 572.20,633.78 576.70,617.92 581.20,604.43 584.70,597.34 589.40,597.68 597.20,615.56 600.70,622.31 604.20,627.71 608.20,639.85 612.70,646.60 615.70,645.59 618.60,643.23 622.60,633.78 627.10,617.92 631.60,604.43 635.10,600.71 639.80,601.05 647.60,615.56 651.10,622.31 654.60,627.71 658.60,639.85 663.10,646.60 665.30,646.60" fill="none" stroke="#1f7aa6" stroke-width="1.7" stroke-linejoin="round" stroke-linecap="round" />
<rect x="362.60" y="518.80" width="302.70" height="127.80" fill="none" stroke="#161616" stroke-width="1.5"/>
<line x1="362.60" y1="582.90" x2="665.30" y2="582.90" stroke="#161616" stroke-width="1.5" />
</svg></body></html>
